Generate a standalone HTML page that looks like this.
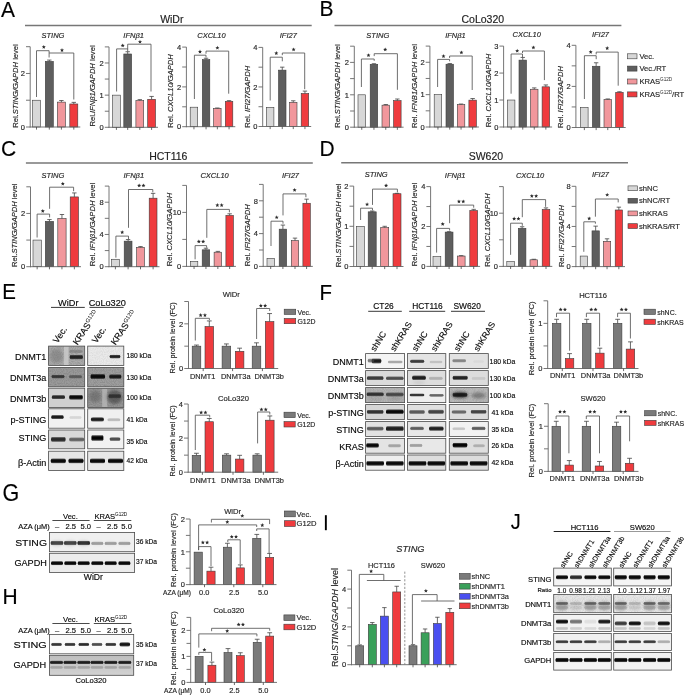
<!DOCTYPE html>
<html><head><meta charset="utf-8"><title>Figure</title>
<style>html,body{margin:0;padding:0;background:#fff;}body{width:685px;height:695px;overflow:hidden;font-family:"Liberation Sans",sans-serif;}svg{display:block;will-change:transform;}text{stroke:#222;stroke-width:0.16px;}</style>
</head><body>
<svg width="685" height="695" viewBox="0 0 685 695" font-family='"Liberation Sans", sans-serif'><defs><linearGradient id="g666" x1="0" y1="0" x2="0" y2="1"><stop offset="0" stop-color="#666" stop-opacity="0"/><stop offset="0.2" stop-color="#666" stop-opacity="0.8"/><stop offset="0.36" stop-color="#666" stop-opacity="1"/><stop offset="0.64" stop-color="#666" stop-opacity="1"/><stop offset="0.8" stop-color="#666" stop-opacity="0.8"/><stop offset="1" stop-color="#666" stop-opacity="0"/></linearGradient><linearGradient id="g151515" x1="0" y1="0" x2="0" y2="1"><stop offset="0" stop-color="#151515" stop-opacity="0"/><stop offset="0.2" stop-color="#151515" stop-opacity="0.8"/><stop offset="0.36" stop-color="#151515" stop-opacity="1"/><stop offset="0.64" stop-color="#151515" stop-opacity="1"/><stop offset="0.8" stop-color="#151515" stop-opacity="0.8"/><stop offset="1" stop-color="#151515" stop-opacity="0"/></linearGradient><linearGradient id="g111" x1="0" y1="0" x2="0" y2="1"><stop offset="0" stop-color="#111" stop-opacity="0"/><stop offset="0.2" stop-color="#111" stop-opacity="0.8"/><stop offset="0.36" stop-color="#111" stop-opacity="1"/><stop offset="0.64" stop-color="#111" stop-opacity="1"/><stop offset="0.8" stop-color="#111" stop-opacity="0.8"/><stop offset="1" stop-color="#111" stop-opacity="0"/></linearGradient><linearGradient id="g2a2a2a" x1="0" y1="0" x2="0" y2="1"><stop offset="0" stop-color="#2a2a2a" stop-opacity="0"/><stop offset="0.2" stop-color="#2a2a2a" stop-opacity="0.8"/><stop offset="0.36" stop-color="#2a2a2a" stop-opacity="1"/><stop offset="0.64" stop-color="#2a2a2a" stop-opacity="1"/><stop offset="0.8" stop-color="#2a2a2a" stop-opacity="0.8"/><stop offset="1" stop-color="#2a2a2a" stop-opacity="0"/></linearGradient><linearGradient id="g4a4a4a" x1="0" y1="0" x2="0" y2="1"><stop offset="0" stop-color="#4a4a4a" stop-opacity="0"/><stop offset="0.2" stop-color="#4a4a4a" stop-opacity="0.8"/><stop offset="0.36" stop-color="#4a4a4a" stop-opacity="1"/><stop offset="0.64" stop-color="#4a4a4a" stop-opacity="1"/><stop offset="0.8" stop-color="#4a4a4a" stop-opacity="0.8"/><stop offset="1" stop-color="#4a4a4a" stop-opacity="0"/></linearGradient><linearGradient id="g0a0a0a" x1="0" y1="0" x2="0" y2="1"><stop offset="0" stop-color="#0a0a0a" stop-opacity="0"/><stop offset="0.2" stop-color="#0a0a0a" stop-opacity="0.8"/><stop offset="0.36" stop-color="#0a0a0a" stop-opacity="1"/><stop offset="0.64" stop-color="#0a0a0a" stop-opacity="1"/><stop offset="0.8" stop-color="#0a0a0a" stop-opacity="0.8"/><stop offset="1" stop-color="#0a0a0a" stop-opacity="0"/></linearGradient><linearGradient id="g1a1a1a" x1="0" y1="0" x2="0" y2="1"><stop offset="0" stop-color="#1a1a1a" stop-opacity="0"/><stop offset="0.2" stop-color="#1a1a1a" stop-opacity="0.8"/><stop offset="0.36" stop-color="#1a1a1a" stop-opacity="1"/><stop offset="0.64" stop-color="#1a1a1a" stop-opacity="1"/><stop offset="0.8" stop-color="#1a1a1a" stop-opacity="0.8"/><stop offset="1" stop-color="#1a1a1a" stop-opacity="0"/></linearGradient><linearGradient id="g222" x1="0" y1="0" x2="0" y2="1"><stop offset="0" stop-color="#222" stop-opacity="0"/><stop offset="0.2" stop-color="#222" stop-opacity="0.8"/><stop offset="0.36" stop-color="#222" stop-opacity="1"/><stop offset="0.64" stop-color="#222" stop-opacity="1"/><stop offset="0.8" stop-color="#222" stop-opacity="0.8"/><stop offset="1" stop-color="#222" stop-opacity="0"/></linearGradient><linearGradient id="gbbb" x1="0" y1="0" x2="0" y2="1"><stop offset="0" stop-color="#bbb" stop-opacity="0"/><stop offset="0.2" stop-color="#bbb" stop-opacity="0.8"/><stop offset="0.36" stop-color="#bbb" stop-opacity="1"/><stop offset="0.64" stop-color="#bbb" stop-opacity="1"/><stop offset="0.8" stop-color="#bbb" stop-opacity="0.8"/><stop offset="1" stop-color="#bbb" stop-opacity="0"/></linearGradient><linearGradient id="g999" x1="0" y1="0" x2="0" y2="1"><stop offset="0" stop-color="#999" stop-opacity="0"/><stop offset="0.2" stop-color="#999" stop-opacity="0.8"/><stop offset="0.36" stop-color="#999" stop-opacity="1"/><stop offset="0.64" stop-color="#999" stop-opacity="1"/><stop offset="0.8" stop-color="#999" stop-opacity="0.8"/><stop offset="1" stop-color="#999" stop-opacity="0"/></linearGradient><linearGradient id="g444" x1="0" y1="0" x2="0" y2="1"><stop offset="0" stop-color="#444" stop-opacity="0"/><stop offset="0.2" stop-color="#444" stop-opacity="0.8"/><stop offset="0.36" stop-color="#444" stop-opacity="1"/><stop offset="0.64" stop-color="#444" stop-opacity="1"/><stop offset="0.8" stop-color="#444" stop-opacity="0.8"/><stop offset="1" stop-color="#444" stop-opacity="0"/></linearGradient><linearGradient id="g050505" x1="0" y1="0" x2="0" y2="1"><stop offset="0" stop-color="#050505" stop-opacity="0"/><stop offset="0.2" stop-color="#050505" stop-opacity="0.8"/><stop offset="0.36" stop-color="#050505" stop-opacity="1"/><stop offset="0.64" stop-color="#050505" stop-opacity="1"/><stop offset="0.8" stop-color="#050505" stop-opacity="0.8"/><stop offset="1" stop-color="#050505" stop-opacity="0"/></linearGradient><linearGradient id="g333" x1="0" y1="0" x2="0" y2="1"><stop offset="0" stop-color="#333" stop-opacity="0"/><stop offset="0.2" stop-color="#333" stop-opacity="0.8"/><stop offset="0.36" stop-color="#333" stop-opacity="1"/><stop offset="0.64" stop-color="#333" stop-opacity="1"/><stop offset="0.8" stop-color="#333" stop-opacity="0.8"/><stop offset="1" stop-color="#333" stop-opacity="0"/></linearGradient><linearGradient id="g888" x1="0" y1="0" x2="0" y2="1"><stop offset="0" stop-color="#888" stop-opacity="0"/><stop offset="0.2" stop-color="#888" stop-opacity="0.8"/><stop offset="0.36" stop-color="#888" stop-opacity="1"/><stop offset="0.64" stop-color="#888" stop-opacity="1"/><stop offset="0.8" stop-color="#888" stop-opacity="0.8"/><stop offset="1" stop-color="#888" stop-opacity="0"/></linearGradient><linearGradient id="gaaa" x1="0" y1="0" x2="0" y2="1"><stop offset="0" stop-color="#aaa" stop-opacity="0"/><stop offset="0.2" stop-color="#aaa" stop-opacity="0.8"/><stop offset="0.36" stop-color="#aaa" stop-opacity="1"/><stop offset="0.64" stop-color="#aaa" stop-opacity="1"/><stop offset="0.8" stop-color="#aaa" stop-opacity="0.8"/><stop offset="1" stop-color="#aaa" stop-opacity="0"/></linearGradient><linearGradient id="gccc" x1="0" y1="0" x2="0" y2="1"><stop offset="0" stop-color="#ccc" stop-opacity="0"/><stop offset="0.2" stop-color="#ccc" stop-opacity="0.8"/><stop offset="0.36" stop-color="#ccc" stop-opacity="1"/><stop offset="0.64" stop-color="#ccc" stop-opacity="1"/><stop offset="0.8" stop-color="#ccc" stop-opacity="0.8"/><stop offset="1" stop-color="#ccc" stop-opacity="0"/></linearGradient><linearGradient id="g080808" x1="0" y1="0" x2="0" y2="1"><stop offset="0" stop-color="#080808" stop-opacity="0"/><stop offset="0.2" stop-color="#080808" stop-opacity="0.8"/><stop offset="0.36" stop-color="#080808" stop-opacity="1"/><stop offset="0.64" stop-color="#080808" stop-opacity="1"/><stop offset="0.8" stop-color="#080808" stop-opacity="0.8"/><stop offset="1" stop-color="#080808" stop-opacity="0"/></linearGradient><linearGradient id="g555" x1="0" y1="0" x2="0" y2="1"><stop offset="0" stop-color="#555" stop-opacity="0"/><stop offset="0.2" stop-color="#555" stop-opacity="0.8"/><stop offset="0.36" stop-color="#555" stop-opacity="1"/><stop offset="0.64" stop-color="#555" stop-opacity="1"/><stop offset="0.8" stop-color="#555" stop-opacity="0.8"/><stop offset="1" stop-color="#555" stop-opacity="0"/></linearGradient><linearGradient id="g8a8a8a" x1="0" y1="0" x2="0" y2="1"><stop offset="0" stop-color="#8a8a8a" stop-opacity="0"/><stop offset="0.2" stop-color="#8a8a8a" stop-opacity="0.8"/><stop offset="0.36" stop-color="#8a8a8a" stop-opacity="1"/><stop offset="0.64" stop-color="#8a8a8a" stop-opacity="1"/><stop offset="0.8" stop-color="#8a8a8a" stop-opacity="0.8"/><stop offset="1" stop-color="#8a8a8a" stop-opacity="0"/></linearGradient><linearGradient id="hgap" x1="0" y1="0" x2="0" y2="1"><stop offset="0" stop-color="#bdbdbd"/><stop offset="1" stop-color="#d2d2d2"/></linearGradient>
<filter id="b1" x="-50%" y="-100%" width="200%" height="300%"><feGaussianBlur stdDeviation="0.55"/></filter>
<filter id="b15" x="-50%" y="-100%" width="200%" height="300%"><feGaussianBlur stdDeviation="0.62"/></filter>
<filter id="b2" x="-50%" y="-100%" width="200%" height="300%"><feGaussianBlur stdDeviation="1.4"/></filter>
<filter id="nz" x="0" y="0" width="100%" height="100%">
<feTurbulence type="fractalNoise" baseFrequency="0.9" numOctaves="2" seed="3" result="t"/>
<feColorMatrix in="t" type="matrix" values="0 0 0 0 0  0 0 0 0 0  0 0 0 0 0  0 0 0 1.6 -0.55"/>
<feComposite in2="SourceGraphic" operator="in"/>
</filter>
</defs><rect width="685" height="695" fill="#fff"/><text transform="translate(1 16.5) scale(1 1.08)" font-size="21" fill="#000" stroke="none">A</text>
<text transform="translate(319.5 16) scale(1 1.08)" font-size="21" fill="#000" stroke="none">B</text>
<text transform="translate(1 155.5) scale(1 1.08)" font-size="21" fill="#000" stroke="none">C</text>
<text transform="translate(319.4 155.5) scale(1 1.08)" font-size="21" fill="#000" stroke="none">D</text>
<text transform="translate(2.2 298.7) scale(1 1.08)" font-size="20.5" fill="#000" stroke="none">E</text>
<text transform="translate(319.5 299.6) scale(1 1.08)" font-size="20.5" fill="#000" stroke="none">F</text>
<text transform="translate(2.4 501) scale(1 1.08)" font-size="21.5" fill="#000" stroke="none">G</text>
<text transform="translate(2.4 603.5) scale(1 1.08)" font-size="21" fill="#000" stroke="none">H</text>
<rect x="324.9" y="515.2" width="1.9" height="15" fill="#000"/>
<text transform="translate(510.8 529.2) scale(1 1.08)" font-size="20" fill="#000" stroke="none">J</text>
<line x1="25" y1="25.6" x2="311.7" y2="25.6" stroke="#777" stroke-width="1.5"/>
<text x="171.8" y="23.4" font-size="10.5" text-anchor="middle" fill="#222">WiDr</text>
<line x1="334.5" y1="25.4" x2="621.4" y2="25.4" stroke="#777" stroke-width="1.5"/>
<text x="482.8" y="22.9" font-size="10.5" text-anchor="middle" fill="#222">CoLo320</text>
<line x1="25.9" y1="163" x2="312.8" y2="163" stroke="#777" stroke-width="1.5"/>
<text x="168.3" y="160.4" font-size="10.5" text-anchor="middle" fill="#222">HCT116</text>
<line x1="341.2" y1="162.7" x2="628" y2="162.7" stroke="#777" stroke-width="1.5"/>
<text x="485.9" y="160" font-size="10.5" text-anchor="middle" fill="#222">SW620</text>
<line x1="30.2" y1="46.7" x2="30.2" y2="127.45" stroke="#666" stroke-width="0.9"/>
<line x1="26" y1="127" x2="30.2" y2="127" stroke="#666" stroke-width="0.9"/>
<text x="24.9" y="129.7" font-size="7.5" text-anchor="end" fill="#2a2a2a">0</text>
<line x1="26" y1="100.23" x2="30.2" y2="100.23" stroke="#666" stroke-width="0.9"/>
<line x1="26" y1="73.47" x2="30.2" y2="73.47" stroke="#666" stroke-width="0.9"/>
<text x="24.9" y="76.17" font-size="7.5" text-anchor="end" fill="#2a2a2a">2</text>
<line x1="26" y1="46.7" x2="30.2" y2="46.7" stroke="#666" stroke-width="0.9"/>
<rect x="32.5" y="100.23" width="8" height="26.77" fill="#d7d7d7" stroke="#3c3c3c" stroke-width="0.6"/>
<rect x="45.3" y="61.42" width="8" height="65.58" fill="#5e5e5e" stroke="#3c3c3c" stroke-width="0.6"/>
<line x1="49.3" y1="61.42" x2="49.3" y2="60.08" stroke="#444" stroke-width="0.8"/>
<line x1="47.1" y1="60.08" x2="51.5" y2="60.08" stroke="#444" stroke-width="0.8"/>
<rect x="57.4" y="102.11" width="8" height="24.89" fill="#f1979c" stroke="#3c3c3c" stroke-width="0.6"/>
<line x1="61.4" y1="102.11" x2="61.4" y2="100.5" stroke="#444" stroke-width="0.8"/>
<line x1="59.2" y1="100.5" x2="63.6" y2="100.5" stroke="#444" stroke-width="0.8"/>
<rect x="69.8" y="103.98" width="8" height="23.02" fill="#ef3b3e" stroke="#3c3c3c" stroke-width="0.6"/>
<line x1="73.8" y1="103.98" x2="73.8" y2="102.37" stroke="#444" stroke-width="0.8"/>
<line x1="71.6" y1="102.37" x2="76" y2="102.37" stroke="#444" stroke-width="0.8"/>
<line x1="29.75" y1="127" x2="80.3" y2="127" stroke="#666" stroke-width="0.9"/>
<line x1="36.5" y1="127" x2="36.5" y2="129.6" stroke="#444" stroke-width="0.8"/>
<line x1="49.3" y1="127" x2="49.3" y2="129.6" stroke="#444" stroke-width="0.8"/>
<line x1="61.4" y1="127" x2="61.4" y2="129.6" stroke="#444" stroke-width="0.8"/>
<line x1="73.8" y1="127" x2="73.8" y2="129.6" stroke="#444" stroke-width="0.8"/>
<path d="M36.5 97V50.7H49.1V53" stroke="#555" stroke-width="0.85" fill="none"/>
<polygon points="43.8,44.9 44.36,46.24 45.8,46.35 44.7,47.29 45.03,48.7 43.8,47.95 42.57,48.7 42.9,47.29 41.8,46.35 43.24,46.24" fill="#2a2a2a"/>
<path d="M49.1 57.5V53H73.8V99.5" stroke="#555" stroke-width="0.85" fill="none"/>
<polygon points="62,48.1 62.56,49.44 64,49.55 62.9,50.49 63.23,51.9 62,51.15 60.77,51.9 61.1,50.49 60,49.55 61.44,49.44" fill="#2a2a2a"/>
<text x="53" y="38" font-size="7.5" text-anchor="middle" font-style="italic" fill="#2a2a2a">STING</text>
<text transform="translate(17.6 86) rotate(-90)" text-anchor="middle" font-size="7.6" fill="#2a2a2a">Rel.<tspan font-style="italic">STING/GAPDH</tspan> level</text>
<line x1="109" y1="46.9" x2="109" y2="127.75" stroke="#666" stroke-width="0.9"/>
<line x1="104.8" y1="127.3" x2="109" y2="127.3" stroke="#666" stroke-width="0.9"/>
<text x="103.7" y="130" font-size="7.5" text-anchor="end" fill="#2a2a2a">0</text>
<line x1="104.8" y1="111.22" x2="109" y2="111.22" stroke="#666" stroke-width="0.9"/>
<line x1="104.8" y1="95.14" x2="109" y2="95.14" stroke="#666" stroke-width="0.9"/>
<text x="103.7" y="97.84" font-size="7.5" text-anchor="end" fill="#2a2a2a">1</text>
<line x1="104.8" y1="79.06" x2="109" y2="79.06" stroke="#666" stroke-width="0.9"/>
<line x1="104.8" y1="62.98" x2="109" y2="62.98" stroke="#666" stroke-width="0.9"/>
<text x="103.7" y="65.68" font-size="7.5" text-anchor="end" fill="#2a2a2a">2</text>
<line x1="104.8" y1="46.9" x2="109" y2="46.9" stroke="#666" stroke-width="0.9"/>
<rect x="112.5" y="95.14" width="7.8" height="32.16" fill="#d7d7d7" stroke="#3c3c3c" stroke-width="0.6"/>
<rect x="123.8" y="53.98" width="7.8" height="73.32" fill="#5e5e5e" stroke="#3c3c3c" stroke-width="0.6"/>
<line x1="127.7" y1="53.98" x2="127.7" y2="51.72" stroke="#444" stroke-width="0.8"/>
<line x1="125.5" y1="51.72" x2="129.9" y2="51.72" stroke="#444" stroke-width="0.8"/>
<rect x="135.9" y="100.61" width="7.8" height="26.69" fill="#f1979c" stroke="#3c3c3c" stroke-width="0.6"/>
<line x1="139.8" y1="100.61" x2="139.8" y2="99.64" stroke="#444" stroke-width="0.8"/>
<line x1="137.6" y1="99.64" x2="142" y2="99.64" stroke="#444" stroke-width="0.8"/>
<rect x="147.7" y="99.32" width="7.8" height="27.98" fill="#ef3b3e" stroke="#3c3c3c" stroke-width="0.6"/>
<line x1="151.6" y1="99.32" x2="151.6" y2="96.43" stroke="#444" stroke-width="0.8"/>
<line x1="149.4" y1="96.43" x2="153.8" y2="96.43" stroke="#444" stroke-width="0.8"/>
<line x1="108.55" y1="127.3" x2="158" y2="127.3" stroke="#666" stroke-width="0.9"/>
<line x1="116.4" y1="127.3" x2="116.4" y2="129.9" stroke="#444" stroke-width="0.8"/>
<line x1="127.7" y1="127.3" x2="127.7" y2="129.9" stroke="#444" stroke-width="0.8"/>
<line x1="139.8" y1="127.3" x2="139.8" y2="129.9" stroke="#444" stroke-width="0.8"/>
<line x1="151.6" y1="127.3" x2="151.6" y2="129.9" stroke="#444" stroke-width="0.8"/>
<path d="M116.6 91.5V48.9H127.7V51.4" stroke="#555" stroke-width="0.85" fill="none"/>
<polygon points="122.7,43.5 123.26,44.84 124.7,44.95 123.6,45.89 123.93,47.3 122.7,46.55 121.47,47.3 121.8,45.89 120.7,44.95 122.14,44.84" fill="#2a2a2a"/>
<path d="M127.7 49.2V44.2H151V91.5" stroke="#555" stroke-width="0.85" fill="none"/>
<polygon points="140,39.8 140.56,41.14 142,41.25 140.9,42.19 141.23,43.6 140,42.84 138.77,43.6 139.1,42.19 138,41.25 139.44,41.14" fill="#2a2a2a"/>
<text x="133.6" y="38.1" font-size="7.5" text-anchor="middle" font-style="italic" fill="#2a2a2a">IFNβ1</text>
<text transform="translate(95.4 86) rotate(-90)" text-anchor="middle" font-size="7.6" fill="#2a2a2a">Rel.<tspan font-style="italic">IFNβ1/GAPDH</tspan> level</text>
<line x1="186.4" y1="47.1" x2="186.4" y2="127.15" stroke="#666" stroke-width="0.9"/>
<line x1="182.2" y1="126.7" x2="186.4" y2="126.7" stroke="#666" stroke-width="0.9"/>
<text x="181.1" y="129.4" font-size="7.5" text-anchor="end" fill="#2a2a2a">0</text>
<line x1="182.2" y1="106.8" x2="186.4" y2="106.8" stroke="#666" stroke-width="0.9"/>
<line x1="182.2" y1="86.9" x2="186.4" y2="86.9" stroke="#666" stroke-width="0.9"/>
<text x="181.1" y="89.6" font-size="7.5" text-anchor="end" fill="#2a2a2a">2</text>
<line x1="182.2" y1="67" x2="186.4" y2="67" stroke="#666" stroke-width="0.9"/>
<line x1="182.2" y1="47.1" x2="186.4" y2="47.1" stroke="#666" stroke-width="0.9"/>
<text x="181.1" y="49.8" font-size="7.5" text-anchor="end" fill="#2a2a2a">4</text>
<rect x="190.2" y="107.2" width="7.5" height="19.5" fill="#d7d7d7" stroke="#3c3c3c" stroke-width="0.6"/>
<rect x="202.3" y="59.64" width="7.5" height="67.06" fill="#5e5e5e" stroke="#3c3c3c" stroke-width="0.6"/>
<line x1="206.05" y1="59.64" x2="206.05" y2="58.24" stroke="#444" stroke-width="0.8"/>
<line x1="203.85" y1="58.24" x2="208.25" y2="58.24" stroke="#444" stroke-width="0.8"/>
<rect x="213.6" y="108.39" width="7.5" height="18.31" fill="#f1979c" stroke="#3c3c3c" stroke-width="0.6"/>
<line x1="217.35" y1="108.39" x2="217.35" y2="107.99" stroke="#444" stroke-width="0.8"/>
<line x1="215.15" y1="107.99" x2="219.55" y2="107.99" stroke="#444" stroke-width="0.8"/>
<rect x="225.3" y="101.43" width="7.5" height="25.27" fill="#ef3b3e" stroke="#3c3c3c" stroke-width="0.6"/>
<line x1="229.05" y1="101.43" x2="229.05" y2="100.63" stroke="#444" stroke-width="0.8"/>
<line x1="226.85" y1="100.63" x2="231.25" y2="100.63" stroke="#444" stroke-width="0.8"/>
<line x1="185.95" y1="126.7" x2="235.3" y2="126.7" stroke="#666" stroke-width="0.9"/>
<line x1="193.95" y1="126.7" x2="193.95" y2="129.3" stroke="#444" stroke-width="0.8"/>
<line x1="206.05" y1="126.7" x2="206.05" y2="129.3" stroke="#444" stroke-width="0.8"/>
<line x1="217.35" y1="126.7" x2="217.35" y2="129.3" stroke="#444" stroke-width="0.8"/>
<line x1="229.05" y1="126.7" x2="229.05" y2="129.3" stroke="#444" stroke-width="0.8"/>
<path d="M194.4 99V55.2H206V57.5" stroke="#555" stroke-width="0.85" fill="none"/>
<polygon points="200,49.6 200.56,50.94 202,51.05 200.9,51.99 201.23,53.4 200,52.65 198.77,53.4 199.1,51.99 198,51.05 199.44,50.94" fill="#2a2a2a"/>
<path d="M206 53.7V51.1H228.7V93.7" stroke="#555" stroke-width="0.85" fill="none"/>
<polygon points="217.4,45.8 217.96,47.14 219.4,47.25 218.3,48.19 218.63,49.6 217.4,48.84 216.17,49.6 216.5,48.19 215.4,47.25 216.84,47.14" fill="#2a2a2a"/>
<text x="211.4" y="37.8" font-size="7.5" text-anchor="middle" font-style="italic" fill="#2a2a2a">CXCL10</text>
<text transform="translate(173.2 91) rotate(-90)" text-anchor="middle" font-size="7.6" fill="#2a2a2a">Rel. <tspan font-style="italic">CXCL10/GAPDH</tspan></text>
<line x1="262.7" y1="47.4" x2="262.7" y2="126.95" stroke="#666" stroke-width="0.9"/>
<line x1="258.5" y1="126.5" x2="262.7" y2="126.5" stroke="#666" stroke-width="0.9"/>
<text x="257.4" y="129.2" font-size="7.5" text-anchor="end" fill="#2a2a2a">0</text>
<line x1="258.5" y1="106.72" x2="262.7" y2="106.72" stroke="#666" stroke-width="0.9"/>
<line x1="258.5" y1="86.95" x2="262.7" y2="86.95" stroke="#666" stroke-width="0.9"/>
<text x="257.4" y="89.65" font-size="7.5" text-anchor="end" fill="#2a2a2a">2</text>
<line x1="258.5" y1="67.18" x2="262.7" y2="67.18" stroke="#666" stroke-width="0.9"/>
<line x1="258.5" y1="47.4" x2="262.7" y2="47.4" stroke="#666" stroke-width="0.9"/>
<text x="257.4" y="50.1" font-size="7.5" text-anchor="end" fill="#2a2a2a">4</text>
<rect x="266.4" y="107.32" width="7.5" height="19.18" fill="#d7d7d7" stroke="#3c3c3c" stroke-width="0.6"/>
<rect x="278.5" y="70.14" width="7.5" height="56.36" fill="#5e5e5e" stroke="#3c3c3c" stroke-width="0.6"/>
<line x1="282.25" y1="70.14" x2="282.25" y2="67.17" stroke="#444" stroke-width="0.8"/>
<line x1="280.05" y1="67.17" x2="284.45" y2="67.17" stroke="#444" stroke-width="0.8"/>
<rect x="289.5" y="102.37" width="7.5" height="24.13" fill="#f1979c" stroke="#3c3c3c" stroke-width="0.6"/>
<line x1="293.25" y1="102.37" x2="293.25" y2="100.79" stroke="#444" stroke-width="0.8"/>
<line x1="291.05" y1="100.79" x2="295.45" y2="100.79" stroke="#444" stroke-width="0.8"/>
<rect x="301.2" y="93.48" width="7.5" height="33.02" fill="#ef3b3e" stroke="#3c3c3c" stroke-width="0.6"/>
<line x1="304.95" y1="93.48" x2="304.95" y2="91.1" stroke="#444" stroke-width="0.8"/>
<line x1="302.75" y1="91.1" x2="307.15" y2="91.1" stroke="#444" stroke-width="0.8"/>
<line x1="262.25" y1="126.5" x2="311.2" y2="126.5" stroke="#666" stroke-width="0.9"/>
<line x1="270.15" y1="126.5" x2="270.15" y2="129.1" stroke="#444" stroke-width="0.8"/>
<line x1="282.25" y1="126.5" x2="282.25" y2="129.1" stroke="#444" stroke-width="0.8"/>
<line x1="293.25" y1="126.5" x2="293.25" y2="129.1" stroke="#444" stroke-width="0.8"/>
<line x1="304.95" y1="126.5" x2="304.95" y2="129.1" stroke="#444" stroke-width="0.8"/>
<path d="M270.2 100.5V57.2H282.3V61.3" stroke="#555" stroke-width="0.85" fill="none"/>
<polygon points="276.3,51.1 276.86,52.44 278.3,52.55 277.2,53.49 277.53,54.9 276.3,54.15 275.07,54.9 275.4,53.49 274.3,52.55 275.74,52.44" fill="#2a2a2a"/>
<path d="M282.3 55.2V53H304.7V89.2" stroke="#555" stroke-width="0.85" fill="none"/>
<polygon points="293.6,47.4 294.16,48.74 295.6,48.85 294.5,49.79 294.83,51.2 293.6,50.45 292.37,51.2 292.7,49.79 291.6,48.85 293.04,48.74" fill="#2a2a2a"/>
<text x="288.3" y="37.8" font-size="7.5" text-anchor="middle" font-style="italic" fill="#2a2a2a">IFI27</text>
<text transform="translate(250.2 96.7) rotate(-90)" text-anchor="middle" font-size="7.6" fill="#2a2a2a">Rel. <tspan font-style="italic">IFI27/GAPDH</tspan></text>
<line x1="354.3" y1="46.2" x2="354.3" y2="127.65" stroke="#666" stroke-width="0.9"/>
<line x1="350.1" y1="127.2" x2="354.3" y2="127.2" stroke="#666" stroke-width="0.9"/>
<text x="349" y="129.9" font-size="7.5" text-anchor="end" fill="#2a2a2a">0</text>
<line x1="350.1" y1="111" x2="354.3" y2="111" stroke="#666" stroke-width="0.9"/>
<line x1="350.1" y1="94.8" x2="354.3" y2="94.8" stroke="#666" stroke-width="0.9"/>
<text x="349" y="97.5" font-size="7.5" text-anchor="end" fill="#2a2a2a">1</text>
<line x1="350.1" y1="78.6" x2="354.3" y2="78.6" stroke="#666" stroke-width="0.9"/>
<line x1="350.1" y1="62.4" x2="354.3" y2="62.4" stroke="#666" stroke-width="0.9"/>
<text x="349" y="65.1" font-size="7.5" text-anchor="end" fill="#2a2a2a">2</text>
<line x1="350.1" y1="46.2" x2="354.3" y2="46.2" stroke="#666" stroke-width="0.9"/>
<rect x="358" y="94.8" width="7.5" height="32.4" fill="#d7d7d7" stroke="#3c3c3c" stroke-width="0.6"/>
<rect x="370.2" y="64.34" width="7.5" height="62.86" fill="#5e5e5e" stroke="#3c3c3c" stroke-width="0.6"/>
<line x1="373.95" y1="64.34" x2="373.95" y2="63.7" stroke="#444" stroke-width="0.8"/>
<line x1="371.75" y1="63.7" x2="376.15" y2="63.7" stroke="#444" stroke-width="0.8"/>
<rect x="382" y="105.17" width="7.5" height="22.03" fill="#f1979c" stroke="#3c3c3c" stroke-width="0.6"/>
<line x1="385.75" y1="105.17" x2="385.75" y2="104.52" stroke="#444" stroke-width="0.8"/>
<line x1="383.55" y1="104.52" x2="387.95" y2="104.52" stroke="#444" stroke-width="0.8"/>
<rect x="393.6" y="100.63" width="7.5" height="26.57" fill="#ef3b3e" stroke="#3c3c3c" stroke-width="0.6"/>
<line x1="397.35" y1="100.63" x2="397.35" y2="99.01" stroke="#444" stroke-width="0.8"/>
<line x1="395.15" y1="99.01" x2="399.55" y2="99.01" stroke="#444" stroke-width="0.8"/>
<line x1="353.85" y1="127.2" x2="403.6" y2="127.2" stroke="#666" stroke-width="0.9"/>
<line x1="361.75" y1="127.2" x2="361.75" y2="129.8" stroke="#444" stroke-width="0.8"/>
<line x1="373.95" y1="127.2" x2="373.95" y2="129.8" stroke="#444" stroke-width="0.8"/>
<line x1="385.75" y1="127.2" x2="385.75" y2="129.8" stroke="#444" stroke-width="0.8"/>
<line x1="397.35" y1="127.2" x2="397.35" y2="129.8" stroke="#444" stroke-width="0.8"/>
<path d="M361.4 87V59H374.2V60.8" stroke="#555" stroke-width="0.85" fill="none"/>
<polygon points="368.5,53.2 369.06,54.54 370.5,54.65 369.4,55.59 369.73,57 368.5,56.24 367.27,57 367.6,55.59 366.5,54.65 367.94,54.54" fill="#2a2a2a"/>
<path d="M374.2 56.1V53.7H397.4V89.8" stroke="#555" stroke-width="0.85" fill="none"/>
<polygon points="385.2,47.5 385.76,48.84 387.2,48.95 386.1,49.89 386.43,51.3 385.2,50.55 383.97,51.3 384.3,49.89 383.2,48.95 384.64,48.84" fill="#2a2a2a"/>
<text x="377.8" y="37.7" font-size="7.5" text-anchor="middle" font-style="italic" fill="#2a2a2a">STING</text>
<text transform="translate(340.1 86) rotate(-90)" text-anchor="middle" font-size="7.6" fill="#2a2a2a">Rel.<tspan font-style="italic">STING/GAPDH</tspan> level</text>
<line x1="429.9" y1="46.1" x2="429.9" y2="127.45" stroke="#666" stroke-width="0.9"/>
<line x1="425.7" y1="127" x2="429.9" y2="127" stroke="#666" stroke-width="0.9"/>
<text x="424.6" y="129.7" font-size="7.5" text-anchor="end" fill="#2a2a2a">0</text>
<line x1="425.7" y1="110.82" x2="429.9" y2="110.82" stroke="#666" stroke-width="0.9"/>
<line x1="425.7" y1="94.64" x2="429.9" y2="94.64" stroke="#666" stroke-width="0.9"/>
<text x="424.6" y="97.34" font-size="7.5" text-anchor="end" fill="#2a2a2a">1</text>
<line x1="425.7" y1="78.46" x2="429.9" y2="78.46" stroke="#666" stroke-width="0.9"/>
<line x1="425.7" y1="62.28" x2="429.9" y2="62.28" stroke="#666" stroke-width="0.9"/>
<text x="424.6" y="64.98" font-size="7.5" text-anchor="end" fill="#2a2a2a">2</text>
<line x1="425.7" y1="46.1" x2="429.9" y2="46.1" stroke="#666" stroke-width="0.9"/>
<rect x="434.2" y="94.64" width="7.5" height="32.36" fill="#d7d7d7" stroke="#3c3c3c" stroke-width="0.6"/>
<rect x="446" y="64.22" width="7.5" height="62.78" fill="#5e5e5e" stroke="#3c3c3c" stroke-width="0.6"/>
<line x1="449.75" y1="64.22" x2="449.75" y2="63.57" stroke="#444" stroke-width="0.8"/>
<line x1="447.55" y1="63.57" x2="451.95" y2="63.57" stroke="#444" stroke-width="0.8"/>
<rect x="457.3" y="104.67" width="7.5" height="22.33" fill="#f1979c" stroke="#3c3c3c" stroke-width="0.6"/>
<line x1="461.05" y1="104.67" x2="461.05" y2="104.02" stroke="#444" stroke-width="0.8"/>
<line x1="458.85" y1="104.02" x2="463.25" y2="104.02" stroke="#444" stroke-width="0.8"/>
<rect x="468.9" y="100.14" width="7.5" height="26.86" fill="#ef3b3e" stroke="#3c3c3c" stroke-width="0.6"/>
<line x1="472.65" y1="100.14" x2="472.65" y2="98.52" stroke="#444" stroke-width="0.8"/>
<line x1="470.45" y1="98.52" x2="474.85" y2="98.52" stroke="#444" stroke-width="0.8"/>
<line x1="429.45" y1="127" x2="478.9" y2="127" stroke="#666" stroke-width="0.9"/>
<line x1="437.95" y1="127" x2="437.95" y2="129.6" stroke="#444" stroke-width="0.8"/>
<line x1="449.75" y1="127" x2="449.75" y2="129.6" stroke="#444" stroke-width="0.8"/>
<line x1="461.05" y1="127" x2="461.05" y2="129.6" stroke="#444" stroke-width="0.8"/>
<line x1="472.65" y1="127" x2="472.65" y2="129.6" stroke="#444" stroke-width="0.8"/>
<path d="M437.6 87V59.4H449.6V61.3" stroke="#555" stroke-width="0.85" fill="none"/>
<polygon points="443.5,54.1 444.06,55.44 445.5,55.55 444.4,56.49 444.73,57.9 443.5,57.15 442.27,57.9 442.6,56.49 441.5,55.55 442.94,55.44" fill="#2a2a2a"/>
<path d="M449.6 58V56H472.2V90" stroke="#555" stroke-width="0.85" fill="none"/>
<polygon points="461.4,50.4 461.96,51.74 463.4,51.85 462.3,52.79 462.63,54.2 461.4,53.45 460.17,54.2 460.5,52.79 459.4,51.85 460.84,51.74" fill="#2a2a2a"/>
<text x="455.4" y="37.8" font-size="7.5" text-anchor="middle" font-style="italic" fill="#2a2a2a">IFNβ1</text>
<text transform="translate(417.1 86) rotate(-90)" text-anchor="middle" font-size="7.6" fill="#2a2a2a">Rel. <tspan font-style="italic">IFNB1/GAPDH</tspan> level</text>
<line x1="503.6" y1="46.1" x2="503.6" y2="127.45" stroke="#666" stroke-width="0.9"/>
<line x1="499.4" y1="127" x2="503.6" y2="127" stroke="#666" stroke-width="0.9"/>
<text x="498.3" y="129.7" font-size="7.5" text-anchor="end" fill="#2a2a2a">0</text>
<line x1="499.4" y1="100.03" x2="503.6" y2="100.03" stroke="#666" stroke-width="0.9"/>
<text x="498.3" y="102.73" font-size="7.5" text-anchor="end" fill="#2a2a2a">1</text>
<line x1="499.4" y1="73.07" x2="503.6" y2="73.07" stroke="#666" stroke-width="0.9"/>
<text x="498.3" y="75.77" font-size="7.5" text-anchor="end" fill="#2a2a2a">2</text>
<line x1="499.4" y1="46.1" x2="503.6" y2="46.1" stroke="#666" stroke-width="0.9"/>
<text x="498.3" y="48.8" font-size="7.5" text-anchor="end" fill="#2a2a2a">3</text>
<rect x="507.4" y="100.03" width="7.5" height="26.97" fill="#d7d7d7" stroke="#3c3c3c" stroke-width="0.6"/>
<rect x="519" y="60.12" width="7.5" height="66.88" fill="#5e5e5e" stroke="#3c3c3c" stroke-width="0.6"/>
<line x1="522.75" y1="60.12" x2="522.75" y2="57.43" stroke="#444" stroke-width="0.8"/>
<line x1="520.55" y1="57.43" x2="524.95" y2="57.43" stroke="#444" stroke-width="0.8"/>
<rect x="530.5" y="89.25" width="7.5" height="37.75" fill="#f1979c" stroke="#3c3c3c" stroke-width="0.6"/>
<line x1="534.25" y1="89.25" x2="534.25" y2="87.9" stroke="#444" stroke-width="0.8"/>
<line x1="532.05" y1="87.9" x2="536.45" y2="87.9" stroke="#444" stroke-width="0.8"/>
<rect x="542.1" y="86.82" width="7.5" height="40.18" fill="#ef3b3e" stroke="#3c3c3c" stroke-width="0.6"/>
<line x1="545.85" y1="86.82" x2="545.85" y2="84.93" stroke="#444" stroke-width="0.8"/>
<line x1="543.65" y1="84.93" x2="548.05" y2="84.93" stroke="#444" stroke-width="0.8"/>
<line x1="503.15" y1="127" x2="552.1" y2="127" stroke="#666" stroke-width="0.9"/>
<line x1="511.15" y1="127" x2="511.15" y2="129.6" stroke="#444" stroke-width="0.8"/>
<line x1="522.75" y1="127" x2="522.75" y2="129.6" stroke="#444" stroke-width="0.8"/>
<line x1="534.25" y1="127" x2="534.25" y2="129.6" stroke="#444" stroke-width="0.8"/>
<line x1="545.85" y1="127" x2="545.85" y2="129.6" stroke="#444" stroke-width="0.8"/>
<path d="M511.1 93.7V54H522.5V57.5" stroke="#555" stroke-width="0.85" fill="none"/>
<polygon points="517.2,48.8 517.76,50.14 519.2,50.25 518.1,51.19 518.43,52.6 517.2,51.84 515.97,52.6 516.3,51.19 515.2,50.25 516.64,50.14" fill="#2a2a2a"/>
<path d="M522.5 53V51H544.4V80.1" stroke="#555" stroke-width="0.85" fill="none"/>
<polygon points="533.4,45.4 533.96,46.74 535.4,46.85 534.3,47.79 534.63,49.2 533.4,48.45 532.17,49.2 532.5,47.79 531.4,46.85 532.84,46.74" fill="#2a2a2a"/>
<text x="526.7" y="37.4" font-size="7.5" text-anchor="middle" font-style="italic" fill="#2a2a2a">CXCL10</text>
<text transform="translate(491.3 90.5) rotate(-90)" text-anchor="middle" font-size="7.6" fill="#2a2a2a">Rel. <tspan font-style="italic">CXCL10/GAPDH</tspan></text>
<line x1="575.9" y1="45.3" x2="575.9" y2="127.95" stroke="#666" stroke-width="0.9"/>
<line x1="571.7" y1="127.5" x2="575.9" y2="127.5" stroke="#666" stroke-width="0.9"/>
<text x="570.6" y="130.2" font-size="7.5" text-anchor="end" fill="#2a2a2a">0</text>
<line x1="571.7" y1="106.95" x2="575.9" y2="106.95" stroke="#666" stroke-width="0.9"/>
<line x1="571.7" y1="86.4" x2="575.9" y2="86.4" stroke="#666" stroke-width="0.9"/>
<text x="570.6" y="89.1" font-size="7.5" text-anchor="end" fill="#2a2a2a">2</text>
<line x1="571.7" y1="65.85" x2="575.9" y2="65.85" stroke="#666" stroke-width="0.9"/>
<line x1="571.7" y1="45.3" x2="575.9" y2="45.3" stroke="#666" stroke-width="0.9"/>
<text x="570.6" y="48" font-size="7.5" text-anchor="end" fill="#2a2a2a">4</text>
<rect x="580.6" y="107.36" width="7.5" height="20.14" fill="#d7d7d7" stroke="#3c3c3c" stroke-width="0.6"/>
<rect x="592.4" y="66.26" width="7.5" height="61.24" fill="#5e5e5e" stroke="#3c3c3c" stroke-width="0.6"/>
<line x1="596.15" y1="66.26" x2="596.15" y2="62.77" stroke="#444" stroke-width="0.8"/>
<line x1="593.95" y1="62.77" x2="598.35" y2="62.77" stroke="#444" stroke-width="0.8"/>
<rect x="604" y="99.55" width="7.5" height="27.95" fill="#f1979c" stroke="#3c3c3c" stroke-width="0.6"/>
<line x1="607.75" y1="99.55" x2="607.75" y2="98.94" stroke="#444" stroke-width="0.8"/>
<line x1="605.55" y1="98.94" x2="609.95" y2="98.94" stroke="#444" stroke-width="0.8"/>
<rect x="615.7" y="92.36" width="7.5" height="35.14" fill="#ef3b3e" stroke="#3c3c3c" stroke-width="0.6"/>
<line x1="619.45" y1="92.36" x2="619.45" y2="91.74" stroke="#444" stroke-width="0.8"/>
<line x1="617.25" y1="91.74" x2="621.65" y2="91.74" stroke="#444" stroke-width="0.8"/>
<line x1="575.45" y1="127.5" x2="625.7" y2="127.5" stroke="#666" stroke-width="0.9"/>
<line x1="584.35" y1="127.5" x2="584.35" y2="130.1" stroke="#444" stroke-width="0.8"/>
<line x1="596.15" y1="127.5" x2="596.15" y2="130.1" stroke="#444" stroke-width="0.8"/>
<line x1="607.75" y1="127.5" x2="607.75" y2="130.1" stroke="#444" stroke-width="0.8"/>
<line x1="619.45" y1="127.5" x2="619.45" y2="130.1" stroke="#444" stroke-width="0.8"/>
<path d="M584.4 99V55.7H596.2V59.2" stroke="#555" stroke-width="0.85" fill="none"/>
<polygon points="590.7,49.9 591.26,51.24 592.7,51.35 591.6,52.29 591.93,53.7 590.7,52.95 589.47,53.7 589.8,52.29 588.7,51.35 590.14,51.24" fill="#2a2a2a"/>
<path d="M596.2 54.4V52.1H618.2V85.7" stroke="#555" stroke-width="0.85" fill="none"/>
<polygon points="607.2,46.1 607.76,47.44 609.2,47.55 608.1,48.49 608.43,49.9 607.2,49.15 605.97,49.9 606.3,48.49 605.2,47.55 606.64,47.44" fill="#2a2a2a"/>
<text x="600.5" y="37.1" font-size="7.5" text-anchor="middle" font-style="italic" fill="#2a2a2a">IFI27</text>
<text transform="translate(563.3 97) rotate(-90)" text-anchor="middle" font-size="7.6" fill="#2a2a2a">Rel. <tspan font-style="italic">IFI27/GAPDH</tspan></text>
<rect x="627.5" y="53.8" width="9.5" height="5" fill="#d7d7d7" stroke="#3c3c3c" stroke-width="0.6"/>
<text x="639.4" y="59" font-size="7.6" fill="#2a2a2a">Vec.</text>
<rect x="627.5" y="66.1" width="9.5" height="5" fill="#5e5e5e" stroke="#3c3c3c" stroke-width="0.6"/>
<text x="639.4" y="71.3" font-size="7.6" fill="#2a2a2a">Vec./RT</text>
<rect x="627.5" y="79" width="9.5" height="5" fill="#f1979c" stroke="#3c3c3c" stroke-width="0.6"/>
<text x="639.4" y="84.2" font-size="7.6" fill="#2a2a2a">KRAS<tspan font-size="4.6" dy="-3" stroke="none">G12D</tspan></text>
<rect x="627.5" y="91.9" width="9.5" height="5" fill="#ef3b3e" stroke="#3c3c3c" stroke-width="0.6"/>
<text x="639.4" y="97.1" font-size="7.6" fill="#2a2a2a">KRAS<tspan font-size="4.6" dy="-3" stroke="none">G12D</tspan><tspan dy="3">/RT</tspan></text>
<line x1="30.5" y1="186.8" x2="30.5" y2="267.15" stroke="#666" stroke-width="0.9"/>
<line x1="26.3" y1="266.7" x2="30.5" y2="266.7" stroke="#666" stroke-width="0.9"/>
<text x="25.2" y="269.4" font-size="7.5" text-anchor="end" fill="#2a2a2a">0</text>
<line x1="26.3" y1="240.07" x2="30.5" y2="240.07" stroke="#666" stroke-width="0.9"/>
<line x1="26.3" y1="213.43" x2="30.5" y2="213.43" stroke="#666" stroke-width="0.9"/>
<text x="25.2" y="216.13" font-size="7.5" text-anchor="end" fill="#2a2a2a">2</text>
<line x1="26.3" y1="186.8" x2="30.5" y2="186.8" stroke="#666" stroke-width="0.9"/>
<rect x="33" y="240.07" width="8.3" height="26.63" fill="#d7d7d7" stroke="#3c3c3c" stroke-width="0.6"/>
<rect x="45.3" y="221.42" width="8.3" height="45.28" fill="#5e5e5e" stroke="#3c3c3c" stroke-width="0.6"/>
<line x1="49.45" y1="221.42" x2="49.45" y2="219.56" stroke="#444" stroke-width="0.8"/>
<line x1="47.25" y1="219.56" x2="51.65" y2="219.56" stroke="#444" stroke-width="0.8"/>
<rect x="57.8" y="218.49" width="8.3" height="48.21" fill="#f1979c" stroke="#3c3c3c" stroke-width="0.6"/>
<line x1="61.95" y1="218.49" x2="61.95" y2="214.5" stroke="#444" stroke-width="0.8"/>
<line x1="59.75" y1="214.5" x2="64.15" y2="214.5" stroke="#444" stroke-width="0.8"/>
<rect x="70.2" y="196.92" width="8.3" height="69.78" fill="#ef3b3e" stroke="#3c3c3c" stroke-width="0.6"/>
<line x1="74.35" y1="196.92" x2="74.35" y2="192.93" stroke="#444" stroke-width="0.8"/>
<line x1="72.15" y1="192.93" x2="76.55" y2="192.93" stroke="#444" stroke-width="0.8"/>
<line x1="30.05" y1="266.7" x2="81" y2="266.7" stroke="#666" stroke-width="0.9"/>
<line x1="37.15" y1="266.7" x2="37.15" y2="269.3" stroke="#444" stroke-width="0.8"/>
<line x1="49.45" y1="266.7" x2="49.45" y2="269.3" stroke="#444" stroke-width="0.8"/>
<line x1="61.95" y1="266.7" x2="61.95" y2="269.3" stroke="#444" stroke-width="0.8"/>
<line x1="74.35" y1="266.7" x2="74.35" y2="269.3" stroke="#444" stroke-width="0.8"/>
<path d="M37.1 237.5V214.1H49.6V217.4" stroke="#555" stroke-width="0.85" fill="none"/>
<polygon points="42.8,209 43.36,210.34 44.8,210.45 43.7,211.39 44.03,212.8 42.8,212.04 41.57,212.8 41.9,211.39 40.8,210.45 42.24,210.34" fill="#2a2a2a"/>
<path d="M49.6 208.8V187.2H73.6V191.2" stroke="#555" stroke-width="0.85" fill="none"/>
<polygon points="62.8,181.7 63.36,183.04 64.8,183.15 63.7,184.09 64.03,185.5 62.8,184.75 61.57,185.5 61.9,184.09 60.8,183.15 62.24,183.04" fill="#2a2a2a"/>
<text x="52.9" y="178.1" font-size="7.5" text-anchor="middle" font-style="italic" fill="#2a2a2a">STING</text>
<text transform="translate(17 225.3) rotate(-90)" text-anchor="middle" font-size="7.6" fill="#2a2a2a">Rel.<tspan font-style="italic">STING/GAPDH</tspan> level</text>
<line x1="109" y1="186.1" x2="109" y2="267.15" stroke="#666" stroke-width="0.9"/>
<line x1="104.8" y1="266.7" x2="109" y2="266.7" stroke="#666" stroke-width="0.9"/>
<text x="103.7" y="269.4" font-size="7.5" text-anchor="end" fill="#2a2a2a">0</text>
<line x1="104.8" y1="250.58" x2="109" y2="250.58" stroke="#666" stroke-width="0.9"/>
<line x1="104.8" y1="234.46" x2="109" y2="234.46" stroke="#666" stroke-width="0.9"/>
<text x="103.7" y="237.16" font-size="7.5" text-anchor="end" fill="#2a2a2a">4</text>
<line x1="104.8" y1="218.34" x2="109" y2="218.34" stroke="#666" stroke-width="0.9"/>
<line x1="104.8" y1="202.22" x2="109" y2="202.22" stroke="#666" stroke-width="0.9"/>
<text x="103.7" y="204.92" font-size="7.5" text-anchor="end" fill="#2a2a2a">8</text>
<line x1="104.8" y1="186.1" x2="109" y2="186.1" stroke="#666" stroke-width="0.9"/>
<rect x="111.5" y="259.28" width="7.8" height="7.42" fill="#d7d7d7" stroke="#3c3c3c" stroke-width="0.6"/>
<rect x="124.2" y="241.15" width="7.8" height="25.55" fill="#5e5e5e" stroke="#3c3c3c" stroke-width="0.6"/>
<line x1="128.1" y1="241.15" x2="128.1" y2="239.54" stroke="#444" stroke-width="0.8"/>
<line x1="125.9" y1="239.54" x2="130.3" y2="239.54" stroke="#444" stroke-width="0.8"/>
<rect x="136.6" y="247.36" width="7.8" height="19.34" fill="#f1979c" stroke="#3c3c3c" stroke-width="0.6"/>
<line x1="140.5" y1="247.36" x2="140.5" y2="246.55" stroke="#444" stroke-width="0.8"/>
<line x1="138.3" y1="246.55" x2="142.7" y2="246.55" stroke="#444" stroke-width="0.8"/>
<rect x="149.2" y="198.19" width="7.8" height="68.51" fill="#ef3b3e" stroke="#3c3c3c" stroke-width="0.6"/>
<line x1="153.1" y1="198.19" x2="153.1" y2="193.35" stroke="#444" stroke-width="0.8"/>
<line x1="150.9" y1="193.35" x2="155.3" y2="193.35" stroke="#444" stroke-width="0.8"/>
<line x1="108.55" y1="266.7" x2="159.5" y2="266.7" stroke="#666" stroke-width="0.9"/>
<line x1="115.4" y1="266.7" x2="115.4" y2="269.3" stroke="#444" stroke-width="0.8"/>
<line x1="128.1" y1="266.7" x2="128.1" y2="269.3" stroke="#444" stroke-width="0.8"/>
<line x1="140.5" y1="266.7" x2="140.5" y2="269.3" stroke="#444" stroke-width="0.8"/>
<line x1="153.1" y1="266.7" x2="153.1" y2="269.3" stroke="#444" stroke-width="0.8"/>
<path d="M115.9 257.6V236.1H128.5V239" stroke="#555" stroke-width="0.85" fill="none"/>
<polygon points="122.2,230.2 122.76,231.54 124.2,231.65 123.1,232.59 123.43,234 122.2,233.25 120.97,234 121.3,232.59 120.2,231.65 121.64,231.54" fill="#2a2a2a"/>
<path d="M128.5 227.8V189.5H152.8V192.3" stroke="#555" stroke-width="0.85" fill="none"/>
<polygon points="139.15,183.5 139.71,184.84 141.15,184.95 140.05,185.89 140.38,187.3 139.15,186.54 137.92,187.3 138.25,185.89 137.15,184.95 138.59,184.84" fill="#2a2a2a"/>
<polygon points="143.45,183.5 144.01,184.84 145.45,184.95 144.35,185.89 144.68,187.3 143.45,186.54 142.22,187.3 142.55,185.89 141.45,184.95 142.89,184.84" fill="#2a2a2a"/>
<text x="133.8" y="177.6" font-size="7.5" text-anchor="middle" font-style="italic" fill="#2a2a2a">IFNβ1</text>
<text transform="translate(95 224.5) rotate(-90)" text-anchor="middle" font-size="7.6" fill="#2a2a2a">Rel. <tspan font-style="italic">IFNβ1/GAPDH</tspan> level</text>
<line x1="186.5" y1="185.4" x2="186.5" y2="266.85" stroke="#666" stroke-width="0.9"/>
<line x1="182.3" y1="266.4" x2="186.5" y2="266.4" stroke="#666" stroke-width="0.9"/>
<text x="181.2" y="269.1" font-size="7.5" text-anchor="end" fill="#2a2a2a">0</text>
<line x1="182.3" y1="239.4" x2="186.5" y2="239.4" stroke="#666" stroke-width="0.9"/>
<line x1="182.3" y1="212.4" x2="186.5" y2="212.4" stroke="#666" stroke-width="0.9"/>
<text x="181.2" y="215.1" font-size="7.5" text-anchor="end" fill="#2a2a2a">10</text>
<line x1="182.3" y1="185.4" x2="186.5" y2="185.4" stroke="#666" stroke-width="0.9"/>
<rect x="190.3" y="261.32" width="7.5" height="5.08" fill="#d7d7d7" stroke="#3c3c3c" stroke-width="0.6"/>
<rect x="202.2" y="249.82" width="7.5" height="16.58" fill="#5e5e5e" stroke="#3c3c3c" stroke-width="0.6"/>
<line x1="205.95" y1="249.82" x2="205.95" y2="248.2" stroke="#444" stroke-width="0.8"/>
<line x1="203.75" y1="248.2" x2="208.15" y2="248.2" stroke="#444" stroke-width="0.8"/>
<rect x="214.1" y="252.2" width="7.5" height="14.2" fill="#f1979c" stroke="#3c3c3c" stroke-width="0.6"/>
<line x1="217.85" y1="252.2" x2="217.85" y2="251.39" stroke="#444" stroke-width="0.8"/>
<line x1="215.65" y1="251.39" x2="220.05" y2="251.39" stroke="#444" stroke-width="0.8"/>
<rect x="225.9" y="215.42" width="7.5" height="50.98" fill="#ef3b3e" stroke="#3c3c3c" stroke-width="0.6"/>
<line x1="229.65" y1="215.42" x2="229.65" y2="213.8" stroke="#444" stroke-width="0.8"/>
<line x1="227.45" y1="213.8" x2="231.85" y2="213.8" stroke="#444" stroke-width="0.8"/>
<line x1="186.05" y1="266.4" x2="235.9" y2="266.4" stroke="#666" stroke-width="0.9"/>
<line x1="194.05" y1="266.4" x2="194.05" y2="269" stroke="#444" stroke-width="0.8"/>
<line x1="205.95" y1="266.4" x2="205.95" y2="269" stroke="#444" stroke-width="0.8"/>
<line x1="217.85" y1="266.4" x2="217.85" y2="269" stroke="#444" stroke-width="0.8"/>
<line x1="229.65" y1="266.4" x2="229.65" y2="269" stroke="#444" stroke-width="0.8"/>
<path d="M195.1 259.3V245.6H206.6V247.7" stroke="#555" stroke-width="0.85" fill="none"/>
<polygon points="198.85,239.5 199.41,240.84 200.85,240.95 199.75,241.89 200.08,243.3 198.85,242.54 197.62,243.3 197.95,241.89 196.85,240.95 198.29,240.84" fill="#2a2a2a"/>
<polygon points="203.15,239.5 203.71,240.84 205.15,240.95 204.05,241.89 204.38,243.3 203.15,242.54 201.92,243.3 202.25,241.89 201.15,240.95 202.59,240.84" fill="#2a2a2a"/>
<path d="M206.8 237.8V209.4H229.4V212.3" stroke="#555" stroke-width="0.85" fill="none"/>
<polygon points="217.35,203.1 217.91,204.44 219.35,204.55 218.25,205.49 218.58,206.9 217.35,206.14 216.12,206.9 216.45,205.49 215.35,204.55 216.79,204.44" fill="#2a2a2a"/>
<polygon points="221.65,203.1 222.21,204.44 223.65,204.55 222.55,205.49 222.88,206.9 221.65,206.14 220.42,206.9 220.75,205.49 219.65,204.55 221.09,204.44" fill="#2a2a2a"/>
<text x="214.6" y="177.6" font-size="7.5" text-anchor="middle" font-style="italic" fill="#2a2a2a">CXCL10</text>
<text transform="translate(171.9 229.5) rotate(-90)" text-anchor="middle" font-size="7.6" fill="#2a2a2a">Rel. <tspan font-style="italic">CXCL10/GAPDH</tspan></text>
<line x1="263.2" y1="184.4" x2="263.2" y2="266.85" stroke="#666" stroke-width="0.9"/>
<line x1="259" y1="266.4" x2="263.2" y2="266.4" stroke="#666" stroke-width="0.9"/>
<text x="257.9" y="269.1" font-size="7.5" text-anchor="end" fill="#2a2a2a">0</text>
<line x1="259" y1="250" x2="263.2" y2="250" stroke="#666" stroke-width="0.9"/>
<line x1="259" y1="233.6" x2="263.2" y2="233.6" stroke="#666" stroke-width="0.9"/>
<text x="257.9" y="236.3" font-size="7.5" text-anchor="end" fill="#2a2a2a">4</text>
<line x1="259" y1="217.2" x2="263.2" y2="217.2" stroke="#666" stroke-width="0.9"/>
<line x1="259" y1="200.8" x2="263.2" y2="200.8" stroke="#666" stroke-width="0.9"/>
<text x="257.9" y="203.5" font-size="7.5" text-anchor="end" fill="#2a2a2a">8</text>
<line x1="259" y1="184.4" x2="263.2" y2="184.4" stroke="#666" stroke-width="0.9"/>
<rect x="267" y="258.36" width="7.4" height="8.04" fill="#d7d7d7" stroke="#3c3c3c" stroke-width="0.6"/>
<rect x="279.2" y="229.17" width="7.4" height="37.23" fill="#5e5e5e" stroke="#3c3c3c" stroke-width="0.6"/>
<line x1="282.9" y1="229.17" x2="282.9" y2="225.07" stroke="#444" stroke-width="0.8"/>
<line x1="280.7" y1="225.07" x2="285.1" y2="225.07" stroke="#444" stroke-width="0.8"/>
<rect x="291.3" y="240.57" width="7.4" height="25.83" fill="#f1979c" stroke="#3c3c3c" stroke-width="0.6"/>
<line x1="295" y1="240.57" x2="295" y2="238.11" stroke="#444" stroke-width="0.8"/>
<line x1="292.8" y1="238.11" x2="297.2" y2="238.11" stroke="#444" stroke-width="0.8"/>
<rect x="302.9" y="203.26" width="7.4" height="63.14" fill="#ef3b3e" stroke="#3c3c3c" stroke-width="0.6"/>
<line x1="306.6" y1="203.26" x2="306.6" y2="199.16" stroke="#444" stroke-width="0.8"/>
<line x1="304.4" y1="199.16" x2="308.8" y2="199.16" stroke="#444" stroke-width="0.8"/>
<line x1="262.75" y1="266.4" x2="312.8" y2="266.4" stroke="#666" stroke-width="0.9"/>
<line x1="270.7" y1="266.4" x2="270.7" y2="269" stroke="#444" stroke-width="0.8"/>
<line x1="282.9" y1="266.4" x2="282.9" y2="269" stroke="#444" stroke-width="0.8"/>
<line x1="295" y1="266.4" x2="295" y2="269" stroke="#444" stroke-width="0.8"/>
<line x1="306.6" y1="266.4" x2="306.6" y2="269" stroke="#444" stroke-width="0.8"/>
<path d="M271 246V221.2H283V223.7" stroke="#555" stroke-width="0.85" fill="none"/>
<polygon points="276.7,215.3 277.26,216.64 278.7,216.75 277.6,217.69 277.93,219.1 276.7,218.34 275.47,219.1 275.8,217.69 274.7,216.75 276.14,216.64" fill="#2a2a2a"/>
<path d="M283 215.4V193.9H305.9V197.2" stroke="#555" stroke-width="0.85" fill="none"/>
<polygon points="294.6,188 295.16,189.34 296.6,189.45 295.5,190.39 295.83,191.8 294.6,191.04 293.37,191.8 293.7,190.39 292.6,189.45 294.04,189.34" fill="#2a2a2a"/>
<text x="290.5" y="177.6" font-size="7.5" text-anchor="middle" font-style="italic" fill="#2a2a2a">IFI27</text>
<text transform="translate(250 235.3) rotate(-90)" text-anchor="middle" font-size="7.6" fill="#2a2a2a">Rel. <tspan font-style="italic">IFI27/GAPDH</tspan></text>
<line x1="353.7" y1="186.1" x2="353.7" y2="266.95" stroke="#666" stroke-width="0.9"/>
<line x1="349.5" y1="266.5" x2="353.7" y2="266.5" stroke="#666" stroke-width="0.9"/>
<text x="348.4" y="269.2" font-size="7.5" text-anchor="end" fill="#2a2a2a">0</text>
<line x1="349.5" y1="246.4" x2="353.7" y2="246.4" stroke="#666" stroke-width="0.9"/>
<line x1="349.5" y1="226.3" x2="353.7" y2="226.3" stroke="#666" stroke-width="0.9"/>
<text x="348.4" y="229" font-size="7.5" text-anchor="end" fill="#2a2a2a">1</text>
<line x1="349.5" y1="206.2" x2="353.7" y2="206.2" stroke="#666" stroke-width="0.9"/>
<line x1="349.5" y1="186.1" x2="353.7" y2="186.1" stroke="#666" stroke-width="0.9"/>
<text x="348.4" y="188.8" font-size="7.5" text-anchor="end" fill="#2a2a2a">2</text>
<rect x="356.3" y="226.3" width="8" height="40.2" fill="#d7d7d7" stroke="#3c3c3c" stroke-width="0.6"/>
<rect x="368.2" y="211.83" width="8" height="54.67" fill="#5e5e5e" stroke="#3c3c3c" stroke-width="0.6"/>
<line x1="372.2" y1="211.83" x2="372.2" y2="211.02" stroke="#444" stroke-width="0.8"/>
<line x1="370" y1="211.02" x2="374.4" y2="211.02" stroke="#444" stroke-width="0.8"/>
<rect x="380.7" y="227.51" width="8" height="38.99" fill="#f1979c" stroke="#3c3c3c" stroke-width="0.6"/>
<line x1="384.7" y1="227.51" x2="384.7" y2="226.3" stroke="#444" stroke-width="0.8"/>
<line x1="382.5" y1="226.3" x2="386.9" y2="226.3" stroke="#444" stroke-width="0.8"/>
<rect x="393" y="193.74" width="8" height="72.76" fill="#ef3b3e" stroke="#3c3c3c" stroke-width="0.6"/>
<line x1="397" y1="193.74" x2="397" y2="193.34" stroke="#444" stroke-width="0.8"/>
<line x1="394.8" y1="193.34" x2="399.2" y2="193.34" stroke="#444" stroke-width="0.8"/>
<line x1="353.25" y1="266.5" x2="403.5" y2="266.5" stroke="#666" stroke-width="0.9"/>
<line x1="360.3" y1="266.5" x2="360.3" y2="269.1" stroke="#444" stroke-width="0.8"/>
<line x1="372.2" y1="266.5" x2="372.2" y2="269.1" stroke="#444" stroke-width="0.8"/>
<line x1="384.7" y1="266.5" x2="384.7" y2="269.1" stroke="#444" stroke-width="0.8"/>
<line x1="397" y1="266.5" x2="397" y2="269.1" stroke="#444" stroke-width="0.8"/>
<path d="M360.6 220V208.2H372.5V210.3" stroke="#555" stroke-width="0.85" fill="none"/>
<polygon points="367.1,202.3 367.66,203.64 369.1,203.75 368,204.69 368.33,206.1 367.1,205.34 365.87,206.1 366.2,204.69 365.1,203.75 366.54,203.64" fill="#2a2a2a"/>
<path d="M372.5 204.9V189.1H397.4V192.4" stroke="#555" stroke-width="0.85" fill="none"/>
<polygon points="386.1,183.5 386.66,184.84 388.1,184.95 387,185.89 387.33,187.3 386.1,186.54 384.87,187.3 385.2,185.89 384.1,184.95 385.54,184.84" fill="#2a2a2a"/>
<text x="376.2" y="177.4" font-size="7.5" text-anchor="middle" font-style="italic" fill="#2a2a2a">STING</text>
<text transform="translate(341 225.4) rotate(-90)" text-anchor="middle" font-size="7.6" fill="#2a2a2a">Rel.<tspan font-style="italic">STING/GAPDH</tspan> level</text>
<line x1="430.6" y1="186.6" x2="430.6" y2="266.85" stroke="#666" stroke-width="0.9"/>
<line x1="426.4" y1="266.4" x2="430.6" y2="266.4" stroke="#666" stroke-width="0.9"/>
<text x="425.3" y="269.1" font-size="7.5" text-anchor="end" fill="#2a2a2a">0</text>
<line x1="426.4" y1="246.45" x2="430.6" y2="246.45" stroke="#666" stroke-width="0.9"/>
<line x1="426.4" y1="226.5" x2="430.6" y2="226.5" stroke="#666" stroke-width="0.9"/>
<text x="425.3" y="229.2" font-size="7.5" text-anchor="end" fill="#2a2a2a">2</text>
<line x1="426.4" y1="206.55" x2="430.6" y2="206.55" stroke="#666" stroke-width="0.9"/>
<line x1="426.4" y1="186.6" x2="430.6" y2="186.6" stroke="#666" stroke-width="0.9"/>
<text x="425.3" y="189.3" font-size="7.5" text-anchor="end" fill="#2a2a2a">4</text>
<rect x="433" y="256.62" width="7.8" height="9.78" fill="#d7d7d7" stroke="#3c3c3c" stroke-width="0.6"/>
<rect x="445.2" y="232.09" width="7.8" height="34.31" fill="#5e5e5e" stroke="#3c3c3c" stroke-width="0.6"/>
<line x1="449.1" y1="232.09" x2="449.1" y2="231.69" stroke="#444" stroke-width="0.8"/>
<line x1="446.9" y1="231.69" x2="451.3" y2="231.69" stroke="#444" stroke-width="0.8"/>
<rect x="457.3" y="256.03" width="7.8" height="10.37" fill="#f1979c" stroke="#3c3c3c" stroke-width="0.6"/>
<line x1="461.2" y1="256.03" x2="461.2" y2="255.63" stroke="#444" stroke-width="0.8"/>
<line x1="459" y1="255.63" x2="463.4" y2="255.63" stroke="#444" stroke-width="0.8"/>
<rect x="469.8" y="210.54" width="7.8" height="55.86" fill="#ef3b3e" stroke="#3c3c3c" stroke-width="0.6"/>
<line x1="473.7" y1="210.54" x2="473.7" y2="209.34" stroke="#444" stroke-width="0.8"/>
<line x1="471.5" y1="209.34" x2="475.9" y2="209.34" stroke="#444" stroke-width="0.8"/>
<line x1="430.15" y1="266.4" x2="480.1" y2="266.4" stroke="#666" stroke-width="0.9"/>
<line x1="436.9" y1="266.4" x2="436.9" y2="269" stroke="#444" stroke-width="0.8"/>
<line x1="449.1" y1="266.4" x2="449.1" y2="269" stroke="#444" stroke-width="0.8"/>
<line x1="461.2" y1="266.4" x2="461.2" y2="269" stroke="#444" stroke-width="0.8"/>
<line x1="473.7" y1="266.4" x2="473.7" y2="269" stroke="#444" stroke-width="0.8"/>
<path d="M436.6 252.6V228.4H449.6V230.5" stroke="#555" stroke-width="0.85" fill="none"/>
<polygon points="442.7,222 443.26,223.34 444.7,223.45 443.6,224.39 443.93,225.8 442.7,225.04 441.47,225.8 441.8,224.39 440.7,223.45 442.14,223.34" fill="#2a2a2a"/>
<path d="M449.6 223.2V205.1H473.7V207.7" stroke="#555" stroke-width="0.85" fill="none"/>
<polygon points="458.95,199.4 459.51,200.74 460.95,200.85 459.85,201.79 460.18,203.2 458.95,202.44 457.72,203.2 458.05,201.79 456.95,200.85 458.39,200.74" fill="#2a2a2a"/>
<polygon points="463.25,199.4 463.81,200.74 465.25,200.85 464.15,201.79 464.48,203.2 463.25,202.44 462.02,203.2 462.35,201.79 461.25,200.85 462.69,200.74" fill="#2a2a2a"/>
<text x="455.1" y="177.6" font-size="7.5" text-anchor="middle" font-style="italic" fill="#2a2a2a">IFNβ1</text>
<text transform="translate(417.1 224.5) rotate(-90)" text-anchor="middle" font-size="7.6" fill="#2a2a2a">Rel. <tspan font-style="italic">IFNβ1/GAPDH</tspan> level</text>
<line x1="503.3" y1="186.6" x2="503.3" y2="266.85" stroke="#666" stroke-width="0.9"/>
<line x1="499.1" y1="266.4" x2="503.3" y2="266.4" stroke="#666" stroke-width="0.9"/>
<text x="498" y="269.1" font-size="7.5" text-anchor="end" fill="#2a2a2a">0</text>
<line x1="499.1" y1="239.8" x2="503.3" y2="239.8" stroke="#666" stroke-width="0.9"/>
<line x1="499.1" y1="213.2" x2="503.3" y2="213.2" stroke="#666" stroke-width="0.9"/>
<text x="498" y="215.9" font-size="7.5" text-anchor="end" fill="#2a2a2a">10</text>
<line x1="499.1" y1="186.6" x2="503.3" y2="186.6" stroke="#666" stroke-width="0.9"/>
<rect x="506.8" y="261.61" width="7.6" height="4.79" fill="#d7d7d7" stroke="#3c3c3c" stroke-width="0.6"/>
<rect x="518.3" y="228.36" width="7.6" height="38.04" fill="#5e5e5e" stroke="#3c3c3c" stroke-width="0.6"/>
<line x1="522.1" y1="228.36" x2="522.1" y2="226.77" stroke="#444" stroke-width="0.8"/>
<line x1="519.9" y1="226.77" x2="524.3" y2="226.77" stroke="#444" stroke-width="0.8"/>
<rect x="530" y="259.8" width="7.6" height="6.6" fill="#f1979c" stroke="#3c3c3c" stroke-width="0.6"/>
<line x1="533.8" y1="259.8" x2="533.8" y2="259.27" stroke="#444" stroke-width="0.8"/>
<line x1="531.6" y1="259.27" x2="536" y2="259.27" stroke="#444" stroke-width="0.8"/>
<rect x="542.2" y="209.48" width="7.6" height="56.92" fill="#ef3b3e" stroke="#3c3c3c" stroke-width="0.6"/>
<line x1="546" y1="209.48" x2="546" y2="207.88" stroke="#444" stroke-width="0.8"/>
<line x1="543.8" y1="207.88" x2="548.2" y2="207.88" stroke="#444" stroke-width="0.8"/>
<line x1="502.85" y1="266.4" x2="552.3" y2="266.4" stroke="#666" stroke-width="0.9"/>
<line x1="510.6" y1="266.4" x2="510.6" y2="269" stroke="#444" stroke-width="0.8"/>
<line x1="522.1" y1="266.4" x2="522.1" y2="269" stroke="#444" stroke-width="0.8"/>
<line x1="533.8" y1="266.4" x2="533.8" y2="269" stroke="#444" stroke-width="0.8"/>
<line x1="546" y1="266.4" x2="546" y2="269" stroke="#444" stroke-width="0.8"/>
<path d="M510.6 254.8V223.2H522.3V225.8" stroke="#555" stroke-width="0.85" fill="none"/>
<polygon points="514.15,216.6 514.71,217.94 516.15,218.05 515.05,218.99 515.38,220.4 514.15,219.64 512.92,220.4 513.25,218.99 512.15,218.05 513.59,217.94" fill="#2a2a2a"/>
<polygon points="518.45,216.6 519.01,217.94 520.45,218.05 519.35,218.99 519.68,220.4 518.45,219.64 517.22,220.4 517.55,218.99 516.45,218.05 517.89,217.94" fill="#2a2a2a"/>
<path d="M522.3 217.2V199.6H545.6V206.8" stroke="#555" stroke-width="0.85" fill="none"/>
<polygon points="531.85,193.9 532.41,195.24 533.85,195.35 532.75,196.29 533.08,197.7 531.85,196.94 530.62,197.7 530.95,196.29 529.85,195.35 531.29,195.24" fill="#2a2a2a"/>
<polygon points="536.15,193.9 536.71,195.24 538.15,195.35 537.05,196.29 537.38,197.7 536.15,196.94 534.92,197.7 535.25,196.29 534.15,195.35 535.59,195.24" fill="#2a2a2a"/>
<text x="530.1" y="177.6" font-size="7.5" text-anchor="middle" font-style="italic" fill="#2a2a2a">CXCL10</text>
<text transform="translate(490.4 230.1) rotate(-90)" text-anchor="middle" font-size="7.6" fill="#2a2a2a">Rel. <tspan font-style="italic">CXCL10/GAPDH</tspan></text>
<line x1="575.9" y1="186.3" x2="575.9" y2="267.05" stroke="#666" stroke-width="0.9"/>
<line x1="571.7" y1="266.6" x2="575.9" y2="266.6" stroke="#666" stroke-width="0.9"/>
<text x="570.6" y="269.3" font-size="7.5" text-anchor="end" fill="#2a2a2a">0</text>
<line x1="571.7" y1="246.53" x2="575.9" y2="246.53" stroke="#666" stroke-width="0.9"/>
<line x1="571.7" y1="226.45" x2="575.9" y2="226.45" stroke="#666" stroke-width="0.9"/>
<text x="570.6" y="229.15" font-size="7.5" text-anchor="end" fill="#2a2a2a">4</text>
<line x1="571.7" y1="206.38" x2="575.9" y2="206.38" stroke="#666" stroke-width="0.9"/>
<line x1="571.7" y1="186.3" x2="575.9" y2="186.3" stroke="#666" stroke-width="0.9"/>
<text x="570.6" y="189" font-size="7.5" text-anchor="end" fill="#2a2a2a">8</text>
<rect x="580.2" y="256.06" width="7.3" height="10.54" fill="#d7d7d7" stroke="#3c3c3c" stroke-width="0.6"/>
<rect x="592" y="230.87" width="7.3" height="35.73" fill="#5e5e5e" stroke="#3c3c3c" stroke-width="0.6"/>
<line x1="595.65" y1="230.87" x2="595.65" y2="226.15" stroke="#444" stroke-width="0.8"/>
<line x1="593.45" y1="226.15" x2="597.85" y2="226.15" stroke="#444" stroke-width="0.8"/>
<rect x="603.4" y="241.31" width="7.3" height="25.29" fill="#f1979c" stroke="#3c3c3c" stroke-width="0.6"/>
<line x1="607.05" y1="241.31" x2="607.05" y2="238.8" stroke="#444" stroke-width="0.8"/>
<line x1="604.85" y1="238.8" x2="609.25" y2="238.8" stroke="#444" stroke-width="0.8"/>
<rect x="615.2" y="209.99" width="7.3" height="56.61" fill="#ef3b3e" stroke="#3c3c3c" stroke-width="0.6"/>
<line x1="618.85" y1="209.99" x2="618.85" y2="207.18" stroke="#444" stroke-width="0.8"/>
<line x1="616.65" y1="207.18" x2="621.05" y2="207.18" stroke="#444" stroke-width="0.8"/>
<line x1="575.45" y1="266.6" x2="625" y2="266.6" stroke="#666" stroke-width="0.9"/>
<line x1="583.85" y1="266.6" x2="583.85" y2="269.2" stroke="#444" stroke-width="0.8"/>
<line x1="595.65" y1="266.6" x2="595.65" y2="269.2" stroke="#444" stroke-width="0.8"/>
<line x1="607.05" y1="266.6" x2="607.05" y2="269.2" stroke="#444" stroke-width="0.8"/>
<line x1="618.85" y1="266.6" x2="618.85" y2="269.2" stroke="#444" stroke-width="0.8"/>
<path d="M583.8 251.8V221.8H595.4V223.7" stroke="#555" stroke-width="0.85" fill="none"/>
<polygon points="589.2,216.4 589.76,217.74 591.2,217.85 590.1,218.79 590.43,220.2 589.2,219.44 587.97,220.2 588.3,218.79 587.2,217.85 588.64,217.74" fill="#2a2a2a"/>
<path d="M595.4 216.7V199H618.2V202.4" stroke="#555" stroke-width="0.85" fill="none"/>
<polygon points="607.2,192.8 607.76,194.14 609.2,194.25 608.1,195.19 608.43,196.6 607.2,195.84 605.97,196.6 606.3,195.19 605.2,194.25 606.64,194.14" fill="#2a2a2a"/>
<text x="600.5" y="177.2" font-size="7.5" text-anchor="middle" font-style="italic" fill="#2a2a2a">IFI27</text>
<text transform="translate(564.2 236.1) rotate(-90)" text-anchor="middle" font-size="7.6" fill="#2a2a2a">Rel. <tspan font-style="italic">IFI27/GAPDH</tspan></text>
<rect x="628" y="185.9" width="9.5" height="4.8" fill="#d7d7d7" stroke="#3c3c3c" stroke-width="0.6"/>
<text x="639" y="191" font-size="7.6" fill="#2a2a2a">shNC</text>
<rect x="628" y="198.3" width="9.5" height="4.8" fill="#5e5e5e" stroke="#3c3c3c" stroke-width="0.6"/>
<text x="639" y="203.4" font-size="7.6" fill="#2a2a2a">shNC/RT</text>
<rect x="628" y="211" width="9.5" height="4.8" fill="#f1979c" stroke="#3c3c3c" stroke-width="0.6"/>
<text x="639" y="216.1" font-size="7.6" fill="#2a2a2a">shKRAS</text>
<rect x="628" y="223.7" width="9.5" height="4.8" fill="#ef3b3e" stroke="#3c3c3c" stroke-width="0.6"/>
<text x="639" y="228.8" font-size="7.6" fill="#2a2a2a">shKRAS/RT</text>
<line x1="188.5" y1="301.5" x2="188.5" y2="368.95" stroke="#666" stroke-width="0.9"/>
<line x1="184.3" y1="368.5" x2="188.5" y2="368.5" stroke="#666" stroke-width="0.9"/>
<text x="183.2" y="371.2" font-size="7.5" text-anchor="end" fill="#2a2a2a">0</text>
<line x1="184.3" y1="346.17" x2="188.5" y2="346.17" stroke="#666" stroke-width="0.9"/>
<line x1="184.3" y1="323.83" x2="188.5" y2="323.83" stroke="#666" stroke-width="0.9"/>
<text x="183.2" y="326.53" font-size="7.5" text-anchor="end" fill="#2a2a2a">2</text>
<line x1="184.3" y1="301.5" x2="188.5" y2="301.5" stroke="#666" stroke-width="0.9"/>
<rect x="192.2" y="346.17" width="8.6" height="22.33" fill="#7a7a7a" stroke="#3c3c3c" stroke-width="0.6"/>
<line x1="196.5" y1="346.17" x2="196.5" y2="345.05" stroke="#444" stroke-width="0.8"/>
<line x1="194.1" y1="345.05" x2="198.9" y2="345.05" stroke="#444" stroke-width="0.8"/>
<rect x="205" y="326.51" width="8.6" height="41.99" fill="#ef3b3e" stroke="#3c3c3c" stroke-width="0.6"/>
<line x1="209.3" y1="326.51" x2="209.3" y2="320.93" stroke="#444" stroke-width="0.8"/>
<line x1="206.9" y1="320.93" x2="211.7" y2="320.93" stroke="#444" stroke-width="0.8"/>
<rect x="222.1" y="346.17" width="8.6" height="22.33" fill="#7a7a7a" stroke="#3c3c3c" stroke-width="0.6"/>
<line x1="226.4" y1="346.17" x2="226.4" y2="343.93" stroke="#444" stroke-width="0.8"/>
<line x1="224" y1="343.93" x2="228.8" y2="343.93" stroke="#444" stroke-width="0.8"/>
<rect x="235.3" y="351.3" width="8.6" height="17.2" fill="#ef3b3e" stroke="#3c3c3c" stroke-width="0.6"/>
<line x1="239.6" y1="351.3" x2="239.6" y2="348.18" stroke="#444" stroke-width="0.8"/>
<line x1="237.2" y1="348.18" x2="242" y2="348.18" stroke="#444" stroke-width="0.8"/>
<rect x="252.2" y="346.17" width="8.6" height="22.33" fill="#7a7a7a" stroke="#3c3c3c" stroke-width="0.6"/>
<line x1="256.5" y1="346.17" x2="256.5" y2="342.82" stroke="#444" stroke-width="0.8"/>
<line x1="254.1" y1="342.82" x2="258.9" y2="342.82" stroke="#444" stroke-width="0.8"/>
<rect x="265.3" y="321.6" width="8.6" height="46.9" fill="#ef3b3e" stroke="#3c3c3c" stroke-width="0.6"/>
<line x1="269.6" y1="321.6" x2="269.6" y2="313.56" stroke="#444" stroke-width="0.8"/>
<line x1="267.2" y1="313.56" x2="272" y2="313.56" stroke="#444" stroke-width="0.8"/>
<line x1="188.05" y1="368.5" x2="278.2" y2="368.5" stroke="#666" stroke-width="0.9"/>
<line x1="203.2" y1="368.5" x2="203.2" y2="371.1" stroke="#444" stroke-width="0.8"/>
<line x1="232.6" y1="368.5" x2="232.6" y2="371.1" stroke="#444" stroke-width="0.8"/>
<line x1="262.4" y1="368.5" x2="262.4" y2="371.1" stroke="#444" stroke-width="0.8"/>
<path d="M195.3 340.5V318.3H209.4V320" stroke="#555" stroke-width="0.85" fill="none"/>
<polygon points="200.65,313.1 201.21,314.44 202.65,314.55 201.55,315.49 201.88,316.9 200.65,316.14 199.42,316.9 199.75,315.49 198.65,314.55 200.09,314.44" fill="#2a2a2a"/>
<polygon points="204.95,313.1 205.51,314.44 206.95,314.55 205.85,315.49 206.18,316.9 204.95,316.14 203.72,316.9 204.05,315.49 202.95,314.55 204.39,314.44" fill="#2a2a2a"/>
<path d="M256.6 339V308.5H269.7V311" stroke="#555" stroke-width="0.85" fill="none"/>
<polygon points="260.85,303.6 261.41,304.94 262.85,305.05 261.75,305.99 262.08,307.4 260.85,306.64 259.62,307.4 259.95,305.99 258.85,305.05 260.29,304.94" fill="#2a2a2a"/>
<polygon points="265.15,303.6 265.71,304.94 267.15,305.05 266.05,305.99 266.38,307.4 265.15,306.64 263.92,307.4 264.25,305.99 263.15,305.05 264.59,304.94" fill="#2a2a2a"/>
<text x="202.7" y="378.6" font-size="7.4" text-anchor="middle" fill="#2a2a2a">DNMT1</text>
<text x="235.8" y="378.6" font-size="7.4" text-anchor="middle" fill="#2a2a2a">DNMT3a</text>
<text x="269.2" y="378.6" font-size="7.4" text-anchor="middle" fill="#2a2a2a">DNMT3b</text>
<text x="231.3" y="297.2" font-size="7.6" text-anchor="middle" fill="#2a2a2a">WiDr</text>
<text transform="translate(174.6 337.9) rotate(-90)" text-anchor="middle" font-size="7.35" fill="#2a2a2a">Rel. protein level (FC)</text>
<rect x="284.2" y="309.2" width="11.5" height="5.2" fill="#7a7a7a" stroke="#3c3c3c" stroke-width="0.6"/>
<text x="297.5" y="314.5" font-size="6.9" fill="#2a2a2a" stroke="none">Vec.</text>
<rect x="284.2" y="318.5" width="11.5" height="5.2" fill="#ef3b3e" stroke="#3c3c3c" stroke-width="0.6"/>
<text x="297.5" y="323.8" font-size="6.9" fill="#2a2a2a" stroke="none">G12D</text>
<line x1="188.2" y1="404" x2="188.2" y2="472.65" stroke="#666" stroke-width="0.9"/>
<line x1="184" y1="472.2" x2="188.2" y2="472.2" stroke="#666" stroke-width="0.9"/>
<text x="182.9" y="474.9" font-size="7.5" text-anchor="end" fill="#2a2a2a">0</text>
<line x1="184" y1="455.15" x2="188.2" y2="455.15" stroke="#666" stroke-width="0.9"/>
<line x1="184" y1="438.1" x2="188.2" y2="438.1" stroke="#666" stroke-width="0.9"/>
<text x="182.9" y="440.8" font-size="7.5" text-anchor="end" fill="#2a2a2a">2</text>
<line x1="184" y1="421.05" x2="188.2" y2="421.05" stroke="#666" stroke-width="0.9"/>
<line x1="184" y1="404" x2="188.2" y2="404" stroke="#666" stroke-width="0.9"/>
<text x="182.9" y="406.7" font-size="7.5" text-anchor="end" fill="#2a2a2a">4</text>
<rect x="192.2" y="455.32" width="8.5" height="16.88" fill="#7a7a7a" stroke="#3c3c3c" stroke-width="0.6"/>
<line x1="196.45" y1="455.32" x2="196.45" y2="453.27" stroke="#444" stroke-width="0.8"/>
<line x1="194.05" y1="453.27" x2="198.85" y2="453.27" stroke="#444" stroke-width="0.8"/>
<rect x="205" y="421.73" width="8.5" height="50.47" fill="#ef3b3e" stroke="#3c3c3c" stroke-width="0.6"/>
<line x1="209.25" y1="421.73" x2="209.25" y2="418.49" stroke="#444" stroke-width="0.8"/>
<line x1="206.85" y1="418.49" x2="211.65" y2="418.49" stroke="#444" stroke-width="0.8"/>
<rect x="222.3" y="455.15" width="8.5" height="17.05" fill="#7a7a7a" stroke="#3c3c3c" stroke-width="0.6"/>
<line x1="226.55" y1="455.15" x2="226.55" y2="453.79" stroke="#444" stroke-width="0.8"/>
<line x1="224.15" y1="453.79" x2="228.95" y2="453.79" stroke="#444" stroke-width="0.8"/>
<rect x="235.4" y="459.07" width="8.5" height="13.13" fill="#ef3b3e" stroke="#3c3c3c" stroke-width="0.6"/>
<line x1="239.65" y1="459.07" x2="239.65" y2="455.32" stroke="#444" stroke-width="0.8"/>
<line x1="237.25" y1="455.32" x2="242.05" y2="455.32" stroke="#444" stroke-width="0.8"/>
<rect x="252.9" y="455.15" width="8.5" height="17.05" fill="#7a7a7a" stroke="#3c3c3c" stroke-width="0.6"/>
<line x1="257.15" y1="455.15" x2="257.15" y2="453.79" stroke="#444" stroke-width="0.8"/>
<line x1="254.75" y1="453.79" x2="259.55" y2="453.79" stroke="#444" stroke-width="0.8"/>
<rect x="265.6" y="420.2" width="8.5" height="52" fill="#ef3b3e" stroke="#3c3c3c" stroke-width="0.6"/>
<line x1="269.85" y1="420.2" x2="269.85" y2="415.94" stroke="#444" stroke-width="0.8"/>
<line x1="267.45" y1="415.94" x2="272.25" y2="415.94" stroke="#444" stroke-width="0.8"/>
<line x1="187.75" y1="472.2" x2="278.2" y2="472.2" stroke="#666" stroke-width="0.9"/>
<line x1="202.4" y1="472.2" x2="202.4" y2="474.8" stroke="#444" stroke-width="0.8"/>
<line x1="233" y1="472.2" x2="233" y2="474.8" stroke="#444" stroke-width="0.8"/>
<line x1="263.4" y1="472.2" x2="263.4" y2="474.8" stroke="#444" stroke-width="0.8"/>
<path d="M195.3 450V415.2H209.7V417.4" stroke="#555" stroke-width="0.85" fill="none"/>
<polygon points="201.15,410.4 201.71,411.74 203.15,411.85 202.05,412.79 202.38,414.2 201.15,413.44 199.92,414.2 200.25,412.79 199.15,411.85 200.59,411.74" fill="#2a2a2a"/>
<polygon points="205.45,410.4 206.01,411.74 207.45,411.85 206.35,412.79 206.68,414.2 205.45,413.44 204.22,414.2 204.55,412.79 203.45,411.85 204.89,411.74" fill="#2a2a2a"/>
<path d="M257.6 443.4V412H269.8V414.5" stroke="#555" stroke-width="0.85" fill="none"/>
<polygon points="261.45,407.4 262.01,408.74 263.45,408.85 262.35,409.79 262.68,411.2 261.45,410.44 260.22,411.2 260.55,409.79 259.45,408.85 260.89,408.74" fill="#2a2a2a"/>
<polygon points="265.75,407.4 266.31,408.74 267.75,408.85 266.65,409.79 266.98,411.2 265.75,410.44 264.52,411.2 264.85,409.79 263.75,408.85 265.19,408.74" fill="#2a2a2a"/>
<text x="202.8" y="482.5" font-size="7.4" text-anchor="middle" fill="#2a2a2a">DNMT1</text>
<text x="235.9" y="482.5" font-size="7.4" text-anchor="middle" fill="#2a2a2a">DNMT3a</text>
<text x="269.2" y="482.5" font-size="7.4" text-anchor="middle" fill="#2a2a2a">DNMT3b</text>
<text x="233.5" y="401.1" font-size="7.6" text-anchor="middle" fill="#2a2a2a">CoLo320</text>
<text transform="translate(174.6 440.9) rotate(-90)" text-anchor="middle" font-size="7.35" fill="#2a2a2a">Rel. protein level (FC)</text>
<rect x="284" y="412.2" width="11.2" height="5.4" fill="#7a7a7a" stroke="#3c3c3c" stroke-width="0.6"/>
<text x="297.2" y="417.6" font-size="6.9" fill="#2a2a2a" stroke="none">Vec.</text>
<rect x="284" y="421.6" width="11.2" height="5.4" fill="#ef3b3e" stroke="#3c3c3c" stroke-width="0.6"/>
<text x="297.2" y="427" font-size="6.9" fill="#2a2a2a" stroke="none">G12D</text>
<line x1="547.7" y1="300.8" x2="547.7" y2="368.95" stroke="#666" stroke-width="0.9"/>
<line x1="543.5" y1="368.5" x2="547.7" y2="368.5" stroke="#666" stroke-width="0.9"/>
<text x="542.4" y="371.2" font-size="7.5" text-anchor="end" fill="#2a2a2a">0</text>
<line x1="543.5" y1="345.93" x2="547.7" y2="345.93" stroke="#666" stroke-width="0.9"/>
<line x1="543.5" y1="323.37" x2="547.7" y2="323.37" stroke="#666" stroke-width="0.9"/>
<text x="542.4" y="326.07" font-size="7.5" text-anchor="end" fill="#2a2a2a">1</text>
<line x1="543.5" y1="300.8" x2="547.7" y2="300.8" stroke="#666" stroke-width="0.9"/>
<rect x="552.4" y="323.37" width="8.5" height="45.13" fill="#7a7a7a" stroke="#3c3c3c" stroke-width="0.6"/>
<line x1="556.65" y1="323.37" x2="556.65" y2="319.3" stroke="#444" stroke-width="0.8"/>
<line x1="554.25" y1="319.3" x2="559.05" y2="319.3" stroke="#444" stroke-width="0.8"/>
<rect x="565.3" y="358.57" width="8.5" height="9.93" fill="#ef3b3e" stroke="#3c3c3c" stroke-width="0.6"/>
<line x1="569.55" y1="358.57" x2="569.55" y2="353.61" stroke="#444" stroke-width="0.8"/>
<line x1="567.15" y1="353.61" x2="571.95" y2="353.61" stroke="#444" stroke-width="0.8"/>
<rect x="582.5" y="323.37" width="8.5" height="45.13" fill="#7a7a7a" stroke="#3c3c3c" stroke-width="0.6"/>
<line x1="586.75" y1="323.37" x2="586.75" y2="319.3" stroke="#444" stroke-width="0.8"/>
<line x1="584.35" y1="319.3" x2="589.15" y2="319.3" stroke="#444" stroke-width="0.8"/>
<rect x="595.6" y="353.15" width="8.5" height="15.35" fill="#ef3b3e" stroke="#3c3c3c" stroke-width="0.6"/>
<line x1="599.85" y1="353.15" x2="599.85" y2="348.19" stroke="#444" stroke-width="0.8"/>
<line x1="597.45" y1="348.19" x2="602.25" y2="348.19" stroke="#444" stroke-width="0.8"/>
<rect x="613.4" y="323.37" width="8.5" height="45.13" fill="#7a7a7a" stroke="#3c3c3c" stroke-width="0.6"/>
<line x1="617.65" y1="323.37" x2="617.65" y2="319.3" stroke="#444" stroke-width="0.8"/>
<line x1="615.25" y1="319.3" x2="620.05" y2="319.3" stroke="#444" stroke-width="0.8"/>
<rect x="626.2" y="349.09" width="8.5" height="19.41" fill="#ef3b3e" stroke="#3c3c3c" stroke-width="0.6"/>
<line x1="630.45" y1="349.09" x2="630.45" y2="341.87" stroke="#444" stroke-width="0.8"/>
<line x1="628.05" y1="341.87" x2="632.85" y2="341.87" stroke="#444" stroke-width="0.8"/>
<line x1="547.25" y1="368.5" x2="638.5" y2="368.5" stroke="#666" stroke-width="0.9"/>
<line x1="562.3" y1="368.5" x2="562.3" y2="371.1" stroke="#444" stroke-width="0.8"/>
<line x1="593" y1="368.5" x2="593" y2="371.1" stroke="#444" stroke-width="0.8"/>
<line x1="623.6" y1="368.5" x2="623.6" y2="371.1" stroke="#444" stroke-width="0.8"/>
<path d="M556.5 317.1V313.2H569.6V350.7" stroke="#555" stroke-width="0.85" fill="none"/>
<polygon points="560.65,307.5 561.21,308.84 562.65,308.95 561.55,309.89 561.88,311.3 560.65,310.55 559.42,311.3 559.75,309.89 558.65,308.95 560.09,308.84" fill="#2a2a2a"/>
<polygon points="564.95,307.5 565.51,308.84 566.95,308.95 565.85,309.89 566.18,311.3 564.95,310.55 563.72,311.3 564.05,309.89 562.95,308.95 564.39,308.84" fill="#2a2a2a"/>
<path d="M586.4 317.1V313.2H599.6V346.3" stroke="#555" stroke-width="0.85" fill="none"/>
<polygon points="591.25,307.5 591.81,308.84 593.25,308.95 592.15,309.89 592.48,311.3 591.25,310.55 590.02,311.3 590.35,309.89 589.25,308.95 590.69,308.84" fill="#2a2a2a"/>
<polygon points="595.55,307.5 596.11,308.84 597.55,308.95 596.45,309.89 596.78,311.3 595.55,310.55 594.32,311.3 594.65,309.89 593.55,308.95 594.99,308.84" fill="#2a2a2a"/>
<path d="M617.6 317.1V313.2H630.4V338.5" stroke="#555" stroke-width="0.85" fill="none"/>
<polygon points="621.65,307.5 622.21,308.84 623.65,308.95 622.55,309.89 622.88,311.3 621.65,310.55 620.42,311.3 620.75,309.89 619.65,308.95 621.09,308.84" fill="#2a2a2a"/>
<polygon points="625.95,307.5 626.51,308.84 627.95,308.95 626.85,309.89 627.18,311.3 625.95,310.55 624.72,311.3 625.05,309.89 623.95,308.95 625.39,308.84" fill="#2a2a2a"/>
<text x="562.7" y="378.1" font-size="7.4" text-anchor="middle" fill="#2a2a2a">DNMT1</text>
<text x="595.6" y="378.1" font-size="7.4" text-anchor="middle" fill="#2a2a2a">DNMT3a</text>
<text x="628.4" y="378.1" font-size="7.4" text-anchor="middle" fill="#2a2a2a">DNMT3b</text>
<text x="593" y="297.6" font-size="7.6" text-anchor="middle" fill="#2a2a2a">HCT116</text>
<text transform="translate(534.4 338.3) rotate(-90)" text-anchor="middle" font-size="7.6" fill="#2a2a2a">Rel. protein level (FC)</text>
<rect x="644" y="309.2" width="11.4" height="5.2" fill="#7a7a7a" stroke="#3c3c3c" stroke-width="0.6"/>
<text x="657.3" y="314.5" font-size="6.95" fill="#2a2a2a" stroke="none">shNC.</text>
<rect x="644" y="319.2" width="11.4" height="5.2" fill="#ef3b3e" stroke="#3c3c3c" stroke-width="0.6"/>
<text x="657.3" y="324.5" font-size="6.95" fill="#2a2a2a" stroke="none">shKRAS</text>
<line x1="548.2" y1="403.7" x2="548.2" y2="471.85" stroke="#666" stroke-width="0.9"/>
<line x1="544" y1="471.4" x2="548.2" y2="471.4" stroke="#666" stroke-width="0.9"/>
<text x="542.9" y="474.1" font-size="7.5" text-anchor="end" fill="#2a2a2a">0</text>
<line x1="544" y1="448.83" x2="548.2" y2="448.83" stroke="#666" stroke-width="0.9"/>
<line x1="544" y1="426.27" x2="548.2" y2="426.27" stroke="#666" stroke-width="0.9"/>
<text x="542.9" y="428.97" font-size="7.5" text-anchor="end" fill="#2a2a2a">1</text>
<line x1="544" y1="403.7" x2="548.2" y2="403.7" stroke="#666" stroke-width="0.9"/>
<rect x="552" y="426.27" width="8.5" height="45.13" fill="#7a7a7a" stroke="#3c3c3c" stroke-width="0.6"/>
<line x1="556.25" y1="426.27" x2="556.25" y2="421.3" stroke="#444" stroke-width="0.8"/>
<line x1="553.85" y1="421.3" x2="558.65" y2="421.3" stroke="#444" stroke-width="0.8"/>
<rect x="565" y="465.08" width="8.5" height="6.32" fill="#ef3b3e" stroke="#3c3c3c" stroke-width="0.6"/>
<line x1="569.25" y1="465.08" x2="569.25" y2="460.57" stroke="#444" stroke-width="0.8"/>
<line x1="566.85" y1="460.57" x2="571.65" y2="460.57" stroke="#444" stroke-width="0.8"/>
<rect x="582.2" y="426.27" width="8.5" height="45.13" fill="#7a7a7a" stroke="#3c3c3c" stroke-width="0.6"/>
<line x1="586.45" y1="426.27" x2="586.45" y2="421.3" stroke="#444" stroke-width="0.8"/>
<line x1="584.05" y1="421.3" x2="588.85" y2="421.3" stroke="#444" stroke-width="0.8"/>
<rect x="595.2" y="465.98" width="8.5" height="5.42" fill="#ef3b3e" stroke="#3c3c3c" stroke-width="0.6"/>
<line x1="599.45" y1="465.98" x2="599.45" y2="461.47" stroke="#444" stroke-width="0.8"/>
<line x1="597.05" y1="461.47" x2="601.85" y2="461.47" stroke="#444" stroke-width="0.8"/>
<rect x="612.3" y="426.27" width="8.5" height="45.13" fill="#7a7a7a" stroke="#3c3c3c" stroke-width="0.6"/>
<line x1="616.55" y1="426.27" x2="616.55" y2="422.2" stroke="#444" stroke-width="0.8"/>
<line x1="614.15" y1="422.2" x2="618.95" y2="422.2" stroke="#444" stroke-width="0.8"/>
<rect x="625.3" y="463.28" width="8.5" height="8.12" fill="#ef3b3e" stroke="#3c3c3c" stroke-width="0.6"/>
<line x1="629.55" y1="463.28" x2="629.55" y2="458.31" stroke="#444" stroke-width="0.8"/>
<line x1="627.15" y1="458.31" x2="631.95" y2="458.31" stroke="#444" stroke-width="0.8"/>
<line x1="547.75" y1="471.4" x2="638.5" y2="471.4" stroke="#666" stroke-width="0.9"/>
<line x1="562.9" y1="471.4" x2="562.9" y2="474" stroke="#444" stroke-width="0.8"/>
<line x1="593" y1="471.4" x2="593" y2="474" stroke="#444" stroke-width="0.8"/>
<line x1="623.2" y1="471.4" x2="623.2" y2="474" stroke="#444" stroke-width="0.8"/>
<path d="M556.1 419.1V416H568.9V453.3" stroke="#555" stroke-width="0.85" fill="none"/>
<polygon points="560.05,409.7 560.61,411.04 562.05,411.15 560.95,412.09 561.28,413.5 560.05,412.75 558.82,413.5 559.15,412.09 558.05,411.15 559.49,411.04" fill="#2a2a2a"/>
<polygon points="564.35,409.7 564.91,411.04 566.35,411.15 565.25,412.09 565.58,413.5 564.35,412.75 563.12,413.5 563.45,412.09 562.35,411.15 563.79,411.04" fill="#2a2a2a"/>
<path d="M586.3 419.1V416H599.5V453.3" stroke="#555" stroke-width="0.85" fill="none"/>
<polygon points="590.15,409.7 590.71,411.04 592.15,411.15 591.05,412.09 591.38,413.5 590.15,412.75 588.92,413.5 589.25,412.09 588.15,411.15 589.59,411.04" fill="#2a2a2a"/>
<polygon points="594.45,409.7 595.01,411.04 596.45,411.15 595.35,412.09 595.68,413.5 594.45,412.75 593.22,413.5 593.55,412.09 592.45,411.15 593.89,411.04" fill="#2a2a2a"/>
<path d="M616.4 419.1V416H629.6V441.3" stroke="#555" stroke-width="0.85" fill="none"/>
<polygon points="620.95,409.7 621.51,411.04 622.95,411.15 621.85,412.09 622.18,413.5 620.95,412.75 619.72,413.5 620.05,412.09 618.95,411.15 620.39,411.04" fill="#2a2a2a"/>
<polygon points="625.25,409.7 625.81,411.04 627.25,411.15 626.15,412.09 626.48,413.5 625.25,412.75 624.02,413.5 624.35,412.09 623.25,411.15 624.69,411.04" fill="#2a2a2a"/>
<text x="562.3" y="480.9" font-size="7.4" text-anchor="middle" fill="#2a2a2a">DNMT1</text>
<text x="594.8" y="480.9" font-size="7.4" text-anchor="middle" fill="#2a2a2a">DNMT3a</text>
<text x="628.8" y="480.9" font-size="7.4" text-anchor="middle" fill="#2a2a2a">DNMT3b</text>
<text x="593" y="401.1" font-size="7.6" text-anchor="middle" fill="#2a2a2a">SW620</text>
<text transform="translate(534.2 440.6) rotate(-90)" text-anchor="middle" font-size="7.6" fill="#2a2a2a">Rel. protein level (FC)</text>
<rect x="644.6" y="410.7" width="11.5" height="5.1" fill="#7a7a7a" stroke="#3c3c3c" stroke-width="0.6"/>
<text x="657.8" y="415.95" font-size="6.95" fill="#2a2a2a" stroke="none">shNC.</text>
<rect x="644.6" y="420.3" width="11.5" height="5.1" fill="#ef3b3e" stroke="#3c3c3c" stroke-width="0.6"/>
<text x="657.8" y="425.55" font-size="6.95" fill="#2a2a2a" stroke="none">shKRAS</text>
<line x1="190.1" y1="519" x2="190.1" y2="585.05" stroke="#666" stroke-width="0.9"/>
<line x1="185.9" y1="584.6" x2="190.1" y2="584.6" stroke="#666" stroke-width="0.9"/>
<text x="184.8" y="587.3" font-size="7.5" text-anchor="end" fill="#2a2a2a">0</text>
<line x1="185.9" y1="568.2" x2="190.1" y2="568.2" stroke="#666" stroke-width="0.9"/>
<line x1="185.9" y1="551.8" x2="190.1" y2="551.8" stroke="#666" stroke-width="0.9"/>
<text x="184.8" y="554.5" font-size="7.5" text-anchor="end" fill="#2a2a2a">1</text>
<line x1="185.9" y1="535.4" x2="190.1" y2="535.4" stroke="#666" stroke-width="0.9"/>
<line x1="185.9" y1="519" x2="190.1" y2="519" stroke="#666" stroke-width="0.9"/>
<text x="184.8" y="521.7" font-size="7.5" text-anchor="end" fill="#2a2a2a">2</text>
<rect x="194.1" y="552.13" width="8.2" height="32.47" fill="#7a7a7a" stroke="#3c3c3c" stroke-width="0.6"/>
<rect x="206.9" y="571.15" width="8.2" height="13.45" fill="#ef3b3e" stroke="#3c3c3c" stroke-width="0.6"/>
<line x1="211" y1="571.15" x2="211" y2="567.22" stroke="#444" stroke-width="0.8"/>
<line x1="208.6" y1="567.22" x2="213.4" y2="567.22" stroke="#444" stroke-width="0.8"/>
<rect x="223.3" y="547.21" width="8.2" height="37.39" fill="#7a7a7a" stroke="#3c3c3c" stroke-width="0.6"/>
<line x1="227.4" y1="547.21" x2="227.4" y2="543.27" stroke="#444" stroke-width="0.8"/>
<line x1="225" y1="543.27" x2="229.8" y2="543.27" stroke="#444" stroke-width="0.8"/>
<rect x="236.2" y="567.87" width="8.2" height="16.73" fill="#ef3b3e" stroke="#3c3c3c" stroke-width="0.6"/>
<line x1="240.3" y1="567.87" x2="240.3" y2="564.92" stroke="#444" stroke-width="0.8"/>
<line x1="237.9" y1="564.92" x2="242.7" y2="564.92" stroke="#444" stroke-width="0.8"/>
<rect x="252.7" y="538.35" width="8.2" height="46.25" fill="#7a7a7a" stroke="#3c3c3c" stroke-width="0.6"/>
<line x1="256.8" y1="538.35" x2="256.8" y2="534.42" stroke="#444" stroke-width="0.8"/>
<line x1="254.4" y1="534.42" x2="259.2" y2="534.42" stroke="#444" stroke-width="0.8"/>
<rect x="265.5" y="557.38" width="8.2" height="27.22" fill="#ef3b3e" stroke="#3c3c3c" stroke-width="0.6"/>
<line x1="269.6" y1="557.38" x2="269.6" y2="553.44" stroke="#444" stroke-width="0.8"/>
<line x1="267.2" y1="553.44" x2="272" y2="553.44" stroke="#444" stroke-width="0.8"/>
<line x1="189.65" y1="584.6" x2="276.5" y2="584.6" stroke="#666" stroke-width="0.9"/>
<line x1="204.5" y1="584.6" x2="204.5" y2="587.2" stroke="#444" stroke-width="0.8"/>
<line x1="233.8" y1="584.6" x2="233.8" y2="587.2" stroke="#444" stroke-width="0.8"/>
<line x1="262.8" y1="584.6" x2="262.8" y2="587.2" stroke="#444" stroke-width="0.8"/>
<path d="M198.6 550.1V546.6H211V566.2" stroke="#555" stroke-width="0.85" fill="none"/>
<polygon points="202.85,540.4 203.41,541.74 204.85,541.85 203.75,542.79 204.08,544.2 202.85,543.45 201.62,544.2 201.95,542.79 200.85,541.85 202.29,541.74" fill="#2a2a2a"/>
<polygon points="207.15,540.4 207.71,541.74 209.15,541.85 208.05,542.79 208.38,544.2 207.15,543.45 205.92,544.2 206.25,542.79 205.15,541.85 206.59,541.74" fill="#2a2a2a"/>
<path d="M227.8 542.1V539.8H240.2V564.2" stroke="#555" stroke-width="0.85" fill="none"/>
<polygon points="231.75,534.7 232.31,536.04 233.75,536.15 232.65,537.09 232.98,538.5 231.75,537.75 230.52,538.5 230.85,537.09 229.75,536.15 231.19,536.04" fill="#2a2a2a"/>
<polygon points="236.05,534.7 236.61,536.04 238.05,536.15 236.95,537.09 237.28,538.5 236.05,537.75 234.82,538.5 235.15,537.09 234.05,536.15 235.49,536.04" fill="#2a2a2a"/>
<path d="M256.7 531V528.9H269.1V553" stroke="#555" stroke-width="0.85" fill="none"/>
<polygon points="262.3,523.1 262.86,524.44 264.3,524.55 263.2,525.49 263.53,526.9 262.3,526.15 261.07,526.9 261.4,525.49 260.3,524.55 261.74,524.44" fill="#2a2a2a"/>
<path d="M198.6 550.1V524.9H256.7V527" stroke="#555" stroke-width="0.85" fill="none"/>
<polygon points="227.3,519.9 227.86,521.24 229.3,521.35 228.2,522.29 228.53,523.7 227.3,522.95 226.07,523.7 226.4,522.29 225.3,521.35 226.74,521.24" fill="#2a2a2a"/>
<path d="M211.4 522.5V519.3H269.6V524.1" stroke="#555" stroke-width="0.85" fill="none"/>
<polygon points="242.3,513.8 242.86,515.14 244.3,515.25 243.2,516.19 243.53,517.6 242.3,516.85 241.07,517.6 241.4,516.19 240.3,515.25 241.74,515.14" fill="#2a2a2a"/>
<text x="204.2" y="595.4" font-size="7.4" text-anchor="middle" fill="#2a2a2a">0.0</text>
<text x="234.2" y="595.4" font-size="7.4" text-anchor="middle" fill="#2a2a2a">2.5</text>
<text x="263.1" y="595.4" font-size="7.4" text-anchor="middle" fill="#2a2a2a">5.0</text>
<text x="232.6" y="513.9" font-size="7.6" text-anchor="middle" fill="#2a2a2a">WiDr</text>
<text x="191" y="595.2" font-size="6.6" text-anchor="end" fill="#2a2a2a" stroke="none">AZA (μM)</text>
<text transform="translate(175.5 550) rotate(-90)" text-anchor="middle" font-size="7.6" fill="#2a2a2a">Rel. protein level (FC)</text>
<rect x="284.3" y="511" width="11" height="5.8" fill="#7a7a7a" stroke="#3c3c3c" stroke-width="0.6"/>
<text x="296.6" y="516.6" font-size="7.6" fill="#2a2a2a">Vec.</text>
<rect x="284.3" y="520.7" width="11" height="5.8" fill="#ef3b3e" stroke="#3c3c3c" stroke-width="0.6"/>
<text x="296.6" y="526.3" font-size="7.6" fill="#2a2a2a">G12D</text>
<line x1="190.7" y1="617.4" x2="190.7" y2="682.85" stroke="#666" stroke-width="0.9"/>
<line x1="186.5" y1="682.4" x2="190.7" y2="682.4" stroke="#666" stroke-width="0.9"/>
<text x="185.4" y="685.1" font-size="7.5" text-anchor="end" fill="#2a2a2a">0</text>
<line x1="186.5" y1="669.4" x2="190.7" y2="669.4" stroke="#666" stroke-width="0.9"/>
<line x1="186.5" y1="656.4" x2="190.7" y2="656.4" stroke="#666" stroke-width="0.9"/>
<text x="185.4" y="659.1" font-size="7.5" text-anchor="end" fill="#2a2a2a">1</text>
<line x1="186.5" y1="643.4" x2="190.7" y2="643.4" stroke="#666" stroke-width="0.9"/>
<line x1="186.5" y1="630.4" x2="190.7" y2="630.4" stroke="#666" stroke-width="0.9"/>
<text x="185.4" y="633.1" font-size="7.5" text-anchor="end" fill="#2a2a2a">2</text>
<line x1="186.5" y1="617.4" x2="190.7" y2="617.4" stroke="#666" stroke-width="0.9"/>
<rect x="195.1" y="656.4" width="8" height="26" fill="#7a7a7a" stroke="#3c3c3c" stroke-width="0.6"/>
<rect x="207.9" y="665.24" width="8" height="17.16" fill="#ef3b3e" stroke="#3c3c3c" stroke-width="0.6"/>
<line x1="211.9" y1="665.24" x2="211.9" y2="662.12" stroke="#444" stroke-width="0.8"/>
<line x1="209.5" y1="662.12" x2="214.3" y2="662.12" stroke="#444" stroke-width="0.8"/>
<rect x="224" y="652.5" width="8" height="29.9" fill="#7a7a7a" stroke="#3c3c3c" stroke-width="0.6"/>
<line x1="228" y1="652.5" x2="228" y2="648.6" stroke="#444" stroke-width="0.8"/>
<line x1="225.6" y1="648.6" x2="230.4" y2="648.6" stroke="#444" stroke-width="0.8"/>
<rect x="236.3" y="655.62" width="8" height="26.78" fill="#ef3b3e" stroke="#3c3c3c" stroke-width="0.6"/>
<line x1="240.3" y1="655.62" x2="240.3" y2="652.76" stroke="#444" stroke-width="0.8"/>
<line x1="237.9" y1="652.76" x2="242.7" y2="652.76" stroke="#444" stroke-width="0.8"/>
<rect x="253.2" y="642.36" width="8" height="40.04" fill="#7a7a7a" stroke="#3c3c3c" stroke-width="0.6"/>
<line x1="257.2" y1="642.36" x2="257.2" y2="639.24" stroke="#444" stroke-width="0.8"/>
<line x1="254.8" y1="639.24" x2="259.6" y2="639.24" stroke="#444" stroke-width="0.8"/>
<rect x="265.7" y="636.12" width="8" height="46.28" fill="#ef3b3e" stroke="#3c3c3c" stroke-width="0.6"/>
<line x1="269.7" y1="636.12" x2="269.7" y2="632.74" stroke="#444" stroke-width="0.8"/>
<line x1="267.3" y1="632.74" x2="272.1" y2="632.74" stroke="#444" stroke-width="0.8"/>
<line x1="190.25" y1="682.4" x2="277" y2="682.4" stroke="#666" stroke-width="0.9"/>
<line x1="205.5" y1="682.4" x2="205.5" y2="685" stroke="#444" stroke-width="0.8"/>
<line x1="234.4" y1="682.4" x2="234.4" y2="685" stroke="#444" stroke-width="0.8"/>
<line x1="263.3" y1="682.4" x2="263.3" y2="685" stroke="#444" stroke-width="0.8"/>
<path d="M198.8 654.8V652.4H211.6V661.2" stroke="#555" stroke-width="0.85" fill="none"/>
<polygon points="204.4,647.7 204.96,649.04 206.4,649.15 205.3,650.09 205.63,651.5 204.4,650.75 203.17,651.5 203.5,650.09 202.4,649.15 203.84,649.04" fill="#2a2a2a"/>
<path d="M198.8 647.6V633.9H256.9V636.3" stroke="#555" stroke-width="0.85" fill="none"/>
<polygon points="227.2,628.9 227.76,630.24 229.2,630.35 228.1,631.29 228.43,632.7 227.2,631.95 225.97,632.7 226.3,631.29 225.2,630.35 226.64,630.24" fill="#2a2a2a"/>
<path d="M211.6 631.2V628.3H269.7V630.7" stroke="#555" stroke-width="0.85" fill="none"/>
<polygon points="238.65,622.5 239.21,623.84 240.65,623.95 239.55,624.89 239.88,626.3 238.65,625.55 237.42,626.3 237.75,624.89 236.65,623.95 238.09,623.84" fill="#2a2a2a"/>
<polygon points="242.95,622.5 243.51,623.84 244.95,623.95 243.85,624.89 244.18,626.3 242.95,625.55 241.72,626.3 242.05,624.89 240.95,623.95 242.39,623.84" fill="#2a2a2a"/>
<text x="205.5" y="692.8" font-size="7.4" text-anchor="middle" fill="#2a2a2a">0.0</text>
<text x="234.4" y="692.8" font-size="7.4" text-anchor="middle" fill="#2a2a2a">2.5</text>
<text x="263.3" y="692.8" font-size="7.4" text-anchor="middle" fill="#2a2a2a">5.0</text>
<text x="228.8" y="613.3" font-size="7.6" text-anchor="middle" fill="#2a2a2a">CoLo320</text>
<text x="192" y="692.6" font-size="6.6" text-anchor="end" fill="#2a2a2a" stroke="none">AZA (μM)</text>
<text transform="translate(176.1 648.2) rotate(-90)" text-anchor="middle" font-size="7.6" fill="#2a2a2a">Rel. protein level (FC)</text>
<rect x="283.9" y="614.9" width="11" height="5.6" fill="#7a7a7a" stroke="#3c3c3c" stroke-width="0.6"/>
<text x="296.5" y="620.4" font-size="7.6" fill="#2a2a2a">Vec.</text>
<rect x="283.9" y="624.2" width="11" height="5.6" fill="#ef3b3e" stroke="#3c3c3c" stroke-width="0.6"/>
<text x="296.5" y="629.7" font-size="7.6" fill="#2a2a2a">G12D</text>
<line x1="351.5" y1="570.2" x2="351.5" y2="665.15" stroke="#666" stroke-width="0.9"/>
<line x1="347.3" y1="664.7" x2="351.5" y2="664.7" stroke="#666" stroke-width="0.9"/>
<text x="346.2" y="667.4" font-size="7.5" text-anchor="end" fill="#2a2a2a">0</text>
<line x1="347.3" y1="645.8" x2="351.5" y2="645.8" stroke="#666" stroke-width="0.9"/>
<line x1="347.3" y1="626.9" x2="351.5" y2="626.9" stroke="#666" stroke-width="0.9"/>
<text x="346.2" y="629.6" font-size="7.5" text-anchor="end" fill="#2a2a2a">2</text>
<line x1="347.3" y1="608" x2="351.5" y2="608" stroke="#666" stroke-width="0.9"/>
<line x1="347.3" y1="589.1" x2="351.5" y2="589.1" stroke="#666" stroke-width="0.9"/>
<text x="346.2" y="591.8" font-size="7.5" text-anchor="end" fill="#2a2a2a">4</text>
<line x1="347.3" y1="570.2" x2="351.5" y2="570.2" stroke="#666" stroke-width="0.9"/>
<rect x="355.7" y="645.8" width="8" height="18.9" fill="#7a7a7a" stroke="#3c3c3c" stroke-width="0.6"/>
<line x1="359.7" y1="645.8" x2="359.7" y2="644.86" stroke="#444" stroke-width="0.8"/>
<line x1="357.5" y1="644.86" x2="361.9" y2="644.86" stroke="#444" stroke-width="0.8"/>
<rect x="368.3" y="624.44" width="8" height="40.26" fill="#3aa05a" stroke="#3c3c3c" stroke-width="0.6"/>
<line x1="372.3" y1="624.44" x2="372.3" y2="622.55" stroke="#444" stroke-width="0.8"/>
<line x1="370.1" y1="622.55" x2="374.5" y2="622.55" stroke="#444" stroke-width="0.8"/>
<rect x="380.4" y="616.13" width="8" height="48.57" fill="#4a4ff0" stroke="#3c3c3c" stroke-width="0.6"/>
<line x1="384.4" y1="616.13" x2="384.4" y2="607.62" stroke="#444" stroke-width="0.8"/>
<line x1="382.2" y1="607.62" x2="386.6" y2="607.62" stroke="#444" stroke-width="0.8"/>
<rect x="392.7" y="591.94" width="8" height="72.76" fill="#ef3b3e" stroke="#3c3c3c" stroke-width="0.6"/>
<line x1="396.7" y1="591.94" x2="396.7" y2="586.27" stroke="#444" stroke-width="0.8"/>
<line x1="394.5" y1="586.27" x2="398.9" y2="586.27" stroke="#444" stroke-width="0.8"/>
<rect x="409" y="645.8" width="8" height="18.9" fill="#7a7a7a" stroke="#3c3c3c" stroke-width="0.6"/>
<line x1="413" y1="645.8" x2="413" y2="644.67" stroke="#444" stroke-width="0.8"/>
<line x1="410.8" y1="644.67" x2="415.2" y2="644.67" stroke="#444" stroke-width="0.8"/>
<rect x="421.1" y="632.76" width="8" height="31.94" fill="#3aa05a" stroke="#3c3c3c" stroke-width="0.6"/>
<line x1="425.1" y1="632.76" x2="425.1" y2="628.98" stroke="#444" stroke-width="0.8"/>
<line x1="422.9" y1="628.98" x2="427.3" y2="628.98" stroke="#444" stroke-width="0.8"/>
<rect x="433.4" y="623.5" width="8" height="41.2" fill="#4a4ff0" stroke="#3c3c3c" stroke-width="0.6"/>
<line x1="437.4" y1="623.5" x2="437.4" y2="617.26" stroke="#444" stroke-width="0.8"/>
<line x1="435.2" y1="617.26" x2="439.6" y2="617.26" stroke="#444" stroke-width="0.8"/>
<rect x="445.8" y="612.35" width="8" height="52.35" fill="#ef3b3e" stroke="#3c3c3c" stroke-width="0.6"/>
<line x1="449.8" y1="612.35" x2="449.8" y2="608.57" stroke="#444" stroke-width="0.8"/>
<line x1="447.6" y1="608.57" x2="452" y2="608.57" stroke="#444" stroke-width="0.8"/>
<line x1="351.05" y1="664.7" x2="456.7" y2="664.7" stroke="#666" stroke-width="0.9"/>
<line x1="359.7" y1="664.7" x2="359.7" y2="667.3" stroke="#444" stroke-width="0.8"/>
<line x1="372.3" y1="664.7" x2="372.3" y2="667.3" stroke="#444" stroke-width="0.8"/>
<line x1="384.4" y1="664.7" x2="384.4" y2="667.3" stroke="#444" stroke-width="0.8"/>
<line x1="396.7" y1="664.7" x2="396.7" y2="667.3" stroke="#444" stroke-width="0.8"/>
<line x1="413" y1="664.7" x2="413" y2="667.3" stroke="#444" stroke-width="0.8"/>
<line x1="425.1" y1="664.7" x2="425.1" y2="667.3" stroke="#444" stroke-width="0.8"/>
<line x1="437.4" y1="664.7" x2="437.4" y2="667.3" stroke="#444" stroke-width="0.8"/>
<line x1="449.8" y1="664.7" x2="449.8" y2="667.3" stroke="#444" stroke-width="0.8"/>
<path d="M359.3 644V574.4H383.8V580.5" stroke="#555" stroke-width="0.85" fill="none"/>
<line x1="366.9" y1="580.5" x2="400.6" y2="580.5" stroke="#555" stroke-width="0.85"/>
<polygon points="371.1,569.2 371.66,570.54 373.1,570.65 372,571.59 372.33,573 371.1,572.25 369.87,573 370.2,571.59 369.1,570.65 370.54,570.54" fill="#2a2a2a"/>
<path d="M412.4 644V594.6H437.1V601" stroke="#555" stroke-width="0.85" fill="none"/>
<line x1="421.1" y1="601" x2="454.5" y2="601" stroke="#555" stroke-width="0.85"/>
<polygon points="425.9,588.8 426.46,590.14 427.9,590.25 426.8,591.19 427.13,592.6 425.9,591.85 424.67,592.6 425,591.19 423.9,590.25 425.34,590.14" fill="#2a2a2a"/>
<line x1="404.8" y1="571.6" x2="404.8" y2="664.7" stroke="#777" stroke-width="0.8" stroke-dasharray="2.2 1.6"/>
<text x="410.4" y="552" font-size="9.2" text-anchor="middle" font-style="italic" fill="#222">STING</text>
<text x="381.5" y="567.8" font-size="7.4" text-anchor="middle" fill="#2a2a2a">HCT116</text>
<text x="432.9" y="567.8" font-size="7.4" text-anchor="middle" fill="#2a2a2a">SW620</text>
<text transform="translate(337.6 617.5) rotate(-90)" text-anchor="middle" font-size="9" fill="#2a2a2a">Rel.<tspan font-style="italic">STING/GAPDH</tspan> level</text>
<rect x="459.5" y="573.5" width="10.7" height="5.7" fill="#7a7a7a" stroke="#3c3c3c" stroke-width="0.6"/>
<text x="471.6" y="579.05" font-size="7.4" fill="#2a2a2a">shNC</text>
<rect x="459.5" y="583.4" width="10.7" height="5.7" fill="#3aa05a" stroke="#3c3c3c" stroke-width="0.6"/>
<text x="471.6" y="588.95" font-size="7.4" fill="#2a2a2a">shDNMT1</text>
<rect x="459.5" y="593.5" width="10.7" height="5.7" fill="#4a4ff0" stroke="#3c3c3c" stroke-width="0.6"/>
<text x="471.6" y="599.05" font-size="7.4" fill="#2a2a2a">shDNMT3a</text>
<rect x="459.5" y="603" width="10.7" height="5.7" fill="#ef3b3e" stroke="#3c3c3c" stroke-width="0.6"/>
<text x="471.6" y="608.55" font-size="7.4" fill="#2a2a2a">shDNMT3b</text>
<rect x="48.6" y="346.1" width="36.1" height="19.3" fill="#ababab"/>
<rect x="48.6" y="346.1" width="36.1" height="19.3" fill="#000" filter="url(#nz)" opacity="0.16"/>
<rect x="87.7" y="346.1" width="36.1" height="19.3" fill="#eaeaea"/>
<rect x="87.7" y="346.1" width="36.1" height="19.3" fill="#000" filter="url(#nz)" opacity="0.08"/>
<rect x="48.6" y="367.4" width="36.1" height="19.4" fill="#9a9a9a"/>
<rect x="48.6" y="367.4" width="36.1" height="19.4" fill="#000" filter="url(#nz)" opacity="0.16"/>
<rect x="87.7" y="367.4" width="36.1" height="19.4" fill="#9e9e9e"/>
<rect x="87.7" y="367.4" width="36.1" height="19.4" fill="#000" filter="url(#nz)" opacity="0.16"/>
<rect x="48.6" y="388.2" width="36.1" height="19.3" fill="#d0d0d0"/>
<rect x="87.7" y="388.2" width="36.1" height="19.3" fill="#979797"/>
<rect x="87.7" y="388.2" width="36.1" height="19.3" fill="#000" filter="url(#nz)" opacity="0.16"/>
<rect x="48.6" y="408.8" width="36.1" height="19.4" fill="#f1f1f1"/>
<rect x="87.7" y="408.8" width="36.1" height="19.4" fill="#f0f0f0"/>
<rect x="48.6" y="430" width="36.1" height="18.8" fill="#d8d8d8"/>
<rect x="87.7" y="430" width="36.1" height="18.8" fill="#f2f2f2"/>
<rect x="48.6" y="451.2" width="36.1" height="19.2" fill="#e6e6e6"/>
<rect x="87.7" y="451.2" width="36.1" height="19.2" fill="#e8e8e8"/>
<rect x="63.8" y="346.3" width="4.8" height="18.9" fill="#c8c8c8" opacity="0.9"/>
<ellipse cx="56.5" cy="356" rx="6.5" ry="7" fill="#777" opacity="0.55" filter="url(#b2)"/>
<rect x="69.5" y="349.3" width="13" height="4" rx="2" fill="url(#g666)" opacity="0.45"/>
<rect x="69.7" y="354.5" width="13.2" height="5.2" rx="2.2" fill="url(#g151515)" opacity="0.9"/>
<rect x="109.6" y="354.4" width="10.8" height="4.4" rx="2.2" fill="url(#g111)" opacity="0.92"/>
<rect x="51.5" y="374.4" width="13" height="4.4" rx="2.2" fill="url(#g2a2a2a)" opacity="0.9"/>
<rect x="69" y="374.7" width="13" height="4.1" rx="2.05" fill="url(#g4a4a4a)" opacity="0.8"/>
<rect x="90.6" y="373.6" width="14.4" height="5.8" rx="2.2" fill="url(#g0a0a0a)" opacity="1"/>
<rect x="109.2" y="374" width="12.2" height="5.2" rx="2.2" fill="url(#g111)" opacity="0.95"/>
<rect x="51.8" y="394.7" width="13.2" height="4.8" rx="2.2" fill="url(#g1a1a1a)" opacity="0.92"/>
<rect x="69.2" y="394.5" width="13.6" height="5.6" rx="2.2" fill="url(#g0a0a0a)" opacity="1"/>
<rect x="102.2" y="388.4" width="5" height="18.9" fill="#b4b4b4" opacity="0.85"/>
<ellipse cx="95" cy="396.5" rx="6" ry="6" fill="#5a5a5a" opacity="0.5" filter="url(#b2)"/>
<ellipse cx="114.5" cy="397" rx="7.5" ry="7" fill="#3a3a3a" opacity="0.6" filter="url(#b2)"/>
<rect x="108.5" y="393.7" width="12.5" height="5" rx="2.2" fill="url(#g222)" opacity="0.75"/>
<rect x="51.2" y="414.7" width="12.5" height="4.7" rx="2.2" fill="url(#g111)" opacity="0.95"/>
<rect x="69.5" y="415.7" width="12" height="3.6" rx="1.8" fill="url(#gbbb)" opacity="0.5"/>
<rect x="90.9" y="416.9" width="13" height="5" rx="2.2" fill="url(#g111)" opacity="0.95"/>
<rect x="107.5" y="417.9" width="12.8" height="3.8" rx="1.9" fill="url(#g999)" opacity="0.6"/>
<rect x="51" y="436.5" width="14.6" height="5.8" rx="2.2" fill="url(#g151515)" opacity="0.9"/>
<rect x="69.2" y="437.1" width="15" height="4.8" rx="2.2" fill="url(#g444)" opacity="0.8"/>
<rect x="91.4" y="434.6" width="12" height="6.8" rx="2.2" fill="url(#g050505)" opacity="1"/>
<rect x="109.6" y="436.9" width="10.8" height="4.4" rx="2.2" fill="url(#g333)" opacity="0.85"/>
<rect x="50.8" y="458.1" width="15" height="5.6" rx="2.2" fill="url(#g0a0a0a)" opacity="1"/>
<rect x="68.5" y="458.1" width="15" height="5.6" rx="2.2" fill="url(#g0a0a0a)" opacity="1"/>
<rect x="90" y="458.1" width="15" height="5.6" rx="2.2" fill="url(#g0a0a0a)" opacity="1"/>
<rect x="108" y="458.1" width="15" height="5.6" rx="2.2" fill="url(#g0a0a0a)" opacity="1"/>
<rect x="48.6" y="346.1" width="36.1" height="19.3" fill="none" stroke="#4a4a4a" stroke-width="0.8"/>
<rect x="87.7" y="346.1" width="36.1" height="19.3" fill="none" stroke="#4a4a4a" stroke-width="0.8"/>
<rect x="48.6" y="367.4" width="36.1" height="19.4" fill="none" stroke="#4a4a4a" stroke-width="0.8"/>
<rect x="87.7" y="367.4" width="36.1" height="19.4" fill="none" stroke="#4a4a4a" stroke-width="0.8"/>
<rect x="48.6" y="388.2" width="36.1" height="19.3" fill="none" stroke="#4a4a4a" stroke-width="0.8"/>
<rect x="87.7" y="388.2" width="36.1" height="19.3" fill="none" stroke="#4a4a4a" stroke-width="0.8"/>
<rect x="48.6" y="408.8" width="36.1" height="19.4" fill="none" stroke="#4a4a4a" stroke-width="0.8"/>
<rect x="87.7" y="408.8" width="36.1" height="19.4" fill="none" stroke="#4a4a4a" stroke-width="0.8"/>
<rect x="48.6" y="430" width="36.1" height="18.8" fill="none" stroke="#4a4a4a" stroke-width="0.8"/>
<rect x="87.7" y="430" width="36.1" height="18.8" fill="none" stroke="#4a4a4a" stroke-width="0.8"/>
<rect x="48.6" y="451.2" width="36.1" height="19.2" fill="none" stroke="#4a4a4a" stroke-width="0.8"/>
<rect x="87.7" y="451.2" width="36.1" height="19.2" fill="none" stroke="#4a4a4a" stroke-width="0.8"/>
<text x="46.4" y="359.75" font-size="9.1" text-anchor="end">DNMT1</text>
<text x="126.6" y="358.4" font-size="6.6" stroke="none">180 kDa</text>
<text x="46.4" y="381.25" font-size="9.1" text-anchor="end">DNMT3a</text>
<text x="126.6" y="379.7" font-size="6.6" stroke="none">130 kDa</text>
<text x="46.4" y="401.85" font-size="9.1" text-anchor="end">DNMT3b</text>
<text x="126.6" y="399.7" font-size="6.6" stroke="none">100 kDa</text>
<text x="46.4" y="423.35" font-size="9.1" text-anchor="end">p-STING</text>
<text x="126.6" y="421.9" font-size="6.6" stroke="none">41 kDa</text>
<text x="46.4" y="441.45" font-size="9.1" text-anchor="end">STING</text>
<text x="126.6" y="443.7" font-size="6.6" stroke="none">35 kDa</text>
<text x="46.4" y="465.85" font-size="9.1" text-anchor="end">β-Actin</text>
<text x="126.6" y="463.2" font-size="6.6" stroke="none">42 kDa</text>
<text x="68.3" y="305.8" font-size="9.2" text-anchor="middle">WiDr</text>
<line x1="51" y1="307.4" x2="84.8" y2="307.4" stroke="#222" stroke-width="0.9"/>
<text x="107.3" y="305.8" font-size="9.2" text-anchor="middle">CoLo320</text>
<line x1="89.5" y1="307.4" x2="123.6" y2="307.4" stroke="#222" stroke-width="0.9"/>
<text x="0" y="0" font-size="9" transform="translate(57.6 343.8) rotate(-56)">Vec.</text>
<text x="0" y="0" font-size="9" transform="translate(77.4 345.6) rotate(-56)">KRAS<tspan font-size="5.6" dy="-3.6" stroke="none">G12D</tspan></text>
<text x="0" y="0" font-size="9" transform="translate(96.6 343.8) rotate(-56)">Vec.</text>
<text x="0" y="0" font-size="9" transform="translate(115.4 345.6) rotate(-56)">KRAS<tspan font-size="5.6" dy="-3.6" stroke="none">G12D</tspan></text>
<rect x="365.6" y="353.6" width="39" height="14.9" fill="#f4f4f4"/>
<rect x="407.4" y="353.6" width="38.4" height="14.9" fill="#e4e4e4"/>
<rect x="449.3" y="353.6" width="39" height="14.9" fill="#e2e2e2"/>
<rect x="365.6" y="370.6" width="39" height="14.9" fill="#dadada"/>
<rect x="407.4" y="370.6" width="38.4" height="14.9" fill="#dedede"/>
<rect x="449.3" y="370.6" width="39" height="14.9" fill="#dcdcdc"/>
<rect x="365.6" y="387.6" width="39" height="15" fill="#b4b4b4"/>
<rect x="365.6" y="387.6" width="39" height="15" fill="#000" filter="url(#nz)" opacity="0.12"/>
<rect x="407.4" y="387.6" width="38.4" height="15" fill="#eeeeee"/>
<rect x="449.3" y="387.6" width="39" height="15" fill="#b8b8b8"/>
<rect x="449.3" y="387.6" width="39" height="15" fill="#000" filter="url(#nz)" opacity="0.12"/>
<rect x="365.6" y="404.6" width="39" height="14.8" fill="#d6d6d6"/>
<rect x="407.4" y="404.6" width="38.4" height="14.8" fill="#e0e0e0"/>
<rect x="449.3" y="404.6" width="39" height="14.8" fill="#dcdcdc"/>
<rect x="365.6" y="421.6" width="39" height="14.8" fill="#e2e2e2"/>
<rect x="407.4" y="421.6" width="38.4" height="14.8" fill="#e8e8e8"/>
<rect x="449.3" y="421.6" width="39" height="14.8" fill="#f2f2f2"/>
<rect x="365.6" y="438.5" width="39" height="14.7" fill="#e4e4e4"/>
<rect x="407.4" y="438.5" width="38.4" height="14.7" fill="#e8e8e8"/>
<rect x="449.3" y="438.5" width="39" height="14.7" fill="#dedede"/>
<rect x="365.6" y="455" width="39" height="15.2" fill="#eeeeee"/>
<rect x="407.4" y="455" width="38.4" height="15.2" fill="#dedede"/>
<rect x="449.3" y="455" width="39" height="15.2" fill="#dcdcdc"/>
<rect x="371.7" y="358.1" width="9.6" height="5.8" rx="2.2" fill="url(#g111)" opacity="0.95"/>
<rect x="367.7" y="358.2" width="6.6" height="4.8" rx="2.2" fill="url(#g444)" opacity="0.7"/>
<rect x="387.9" y="360.2" width="14.6" height="3.6" rx="1.8" fill="url(#g888)" opacity="0.7"/>
<rect x="410.15" y="359.2" width="14.1" height="4.2" rx="2.1" fill="url(#g2a2a2a)" opacity="0.9"/>
<rect x="429.7" y="360.3" width="12.6" height="3.4" rx="1.7" fill="url(#gaaa)" opacity="0.6"/>
<rect x="452.4" y="358.8" width="13.6" height="4" rx="2" fill="url(#g666)" opacity="0.75"/>
<rect x="473.3" y="359.9" width="10.6" height="3.2" rx="1.6" fill="url(#gccc)" opacity="0.4"/>
<rect x="366.9" y="375.7" width="16.6" height="4.8" rx="2.2" fill="url(#g2a2a2a)" opacity="0.9"/>
<rect x="386" y="376.1" width="17.6" height="4.4" rx="2.2" fill="url(#g333)" opacity="0.85"/>
<rect x="412.2" y="375.1" width="13.6" height="5.4" rx="2.2" fill="url(#g151515)" opacity="0.95"/>
<ellipse cx="419" cy="382.5" rx="6.3" ry="1.5" fill="#aaa" opacity="0.4" filter="url(#b2)"/>
<rect x="429" y="376.3" width="13.6" height="4" rx="2" fill="url(#g999)" opacity="0.65"/>
<rect x="452.65" y="375.3" width="15.1" height="5" rx="2.2" fill="url(#g1a1a1a)" opacity="0.95"/>
<rect x="471.8" y="376.4" width="13.6" height="4" rx="2" fill="url(#gbbb)" opacity="0.6"/>
<rect x="366.65" y="391.9" width="17.1" height="4.8" rx="2.2" fill="url(#g222)" opacity="0.9"/>
<rect x="386" y="392.1" width="17.6" height="4.8" rx="2.2" fill="url(#g333)" opacity="0.85"/>
<ellipse cx="395" cy="398.5" rx="7.8" ry="1.5" fill="#777" opacity="0.45" filter="url(#b2)"/>
<ellipse cx="375" cy="399" rx="7.8" ry="1.5" fill="#888" opacity="0.4" filter="url(#b2)"/>
<rect x="409.7" y="393.2" width="14.6" height="3.6" rx="1.8" fill="url(#g222)" opacity="0.9"/>
<rect x="429.45" y="393.55" width="14.1" height="3.5" rx="1.75" fill="url(#g444)" opacity="0.8"/>
<ellipse cx="460" cy="395" rx="7.8" ry="2.8" fill="#1a1a1a" opacity="0.9" filter="url(#b2)"/>
<rect x="452.7" y="392.3" width="14.6" height="5" rx="2.2" fill="url(#g111)" opacity="0.8"/>
<ellipse cx="478.6" cy="395.5" rx="7.3" ry="3" fill="#555" opacity="0.6" filter="url(#b2)"/>
<rect x="366.9" y="409.5" width="16.6" height="4.8" rx="2.2" fill="url(#g222)" opacity="0.9"/>
<rect x="386" y="409" width="17.6" height="5.4" rx="2.2" fill="url(#g080808)" opacity="1"/>
<rect x="409.2" y="409.7" width="15.6" height="4.6" rx="2.2" fill="url(#g444)" opacity="0.85"/>
<rect x="428.2" y="409.3" width="15.6" height="5" rx="2.2" fill="url(#g333)" opacity="0.9"/>
<rect x="451.7" y="409.9" width="14.6" height="4.2" rx="2.1" fill="url(#g555)" opacity="0.85"/>
<rect x="470.8" y="409.5" width="15.6" height="4.6" rx="2.2" fill="url(#g333)" opacity="0.9"/>
<rect x="366.9" y="426.2" width="16.6" height="4.8" rx="2.2" fill="url(#g444)" opacity="0.85"/>
<rect x="386" y="425.7" width="17.6" height="5.8" rx="2.2" fill="url(#g151515)" opacity="0.95"/>
<rect x="410.2" y="426.2" width="13.6" height="4.4" rx="2.2" fill="url(#g444)" opacity="0.85"/>
<rect x="429" y="426" width="14.6" height="5.2" rx="2.2" fill="url(#g151515)" opacity="0.95"/>
<rect x="452.5" y="427" width="12.6" height="3.6" rx="1.8" fill="url(#gaaa)" opacity="0.6"/>
<rect x="471.8" y="426.2" width="13.6" height="4.4" rx="2.2" fill="url(#g444)" opacity="0.85"/>
<rect x="366.2" y="442.7" width="12.6" height="5.4" rx="2.2" fill="url(#g080808)" opacity="1"/>
<rect x="388.2" y="443.8" width="12.6" height="4" rx="2" fill="url(#g888)" opacity="0.7"/>
<rect x="409.7" y="443.4" width="12.6" height="4" rx="2" fill="url(#g888)" opacity="0.75"/>
<rect x="452.7" y="442.4" width="14.6" height="5.6" rx="2.2" fill="url(#g050505)" opacity="1"/>
<rect x="473.2" y="443.9" width="11.6" height="3.8" rx="1.9" fill="url(#g999)" opacity="0.7"/>
<rect x="366.4" y="460.6" width="17.6" height="5.6" rx="2.2" fill="url(#g0a0a0a)" opacity="1"/>
<rect x="386" y="460.6" width="17.6" height="5.6" rx="2.2" fill="url(#g0a0a0a)" opacity="1"/>
<rect x="408.7" y="460.6" width="17.6" height="5.6" rx="2.2" fill="url(#g0a0a0a)" opacity="1"/>
<rect x="427.5" y="460.6" width="17.6" height="5.6" rx="2.2" fill="url(#g0a0a0a)" opacity="1"/>
<rect x="450.4" y="460.6" width="17.6" height="5.6" rx="2.2" fill="url(#g0a0a0a)" opacity="1"/>
<rect x="469.8" y="460.6" width="17.6" height="5.6" rx="2.2" fill="url(#g0a0a0a)" opacity="1"/>
<rect x="365.6" y="353.6" width="39" height="14.9" fill="none" stroke="#4a4a4a" stroke-width="0.8"/>
<rect x="407.4" y="353.6" width="38.4" height="14.9" fill="none" stroke="#4a4a4a" stroke-width="0.8"/>
<rect x="449.3" y="353.6" width="39" height="14.9" fill="none" stroke="#4a4a4a" stroke-width="0.8"/>
<rect x="365.6" y="370.6" width="39" height="14.9" fill="none" stroke="#4a4a4a" stroke-width="0.8"/>
<rect x="407.4" y="370.6" width="38.4" height="14.9" fill="none" stroke="#4a4a4a" stroke-width="0.8"/>
<rect x="449.3" y="370.6" width="39" height="14.9" fill="none" stroke="#4a4a4a" stroke-width="0.8"/>
<rect x="365.6" y="387.6" width="39" height="15" fill="none" stroke="#4a4a4a" stroke-width="0.8"/>
<rect x="407.4" y="387.6" width="38.4" height="15" fill="none" stroke="#4a4a4a" stroke-width="0.8"/>
<rect x="449.3" y="387.6" width="39" height="15" fill="none" stroke="#4a4a4a" stroke-width="0.8"/>
<rect x="365.6" y="404.6" width="39" height="14.8" fill="none" stroke="#4a4a4a" stroke-width="0.8"/>
<rect x="407.4" y="404.6" width="38.4" height="14.8" fill="none" stroke="#4a4a4a" stroke-width="0.8"/>
<rect x="449.3" y="404.6" width="39" height="14.8" fill="none" stroke="#4a4a4a" stroke-width="0.8"/>
<rect x="365.6" y="421.6" width="39" height="14.8" fill="none" stroke="#4a4a4a" stroke-width="0.8"/>
<rect x="407.4" y="421.6" width="38.4" height="14.8" fill="none" stroke="#4a4a4a" stroke-width="0.8"/>
<rect x="449.3" y="421.6" width="39" height="14.8" fill="none" stroke="#4a4a4a" stroke-width="0.8"/>
<rect x="365.6" y="438.5" width="39" height="14.7" fill="none" stroke="#4a4a4a" stroke-width="0.8"/>
<rect x="407.4" y="438.5" width="38.4" height="14.7" fill="none" stroke="#4a4a4a" stroke-width="0.8"/>
<rect x="449.3" y="438.5" width="39" height="14.7" fill="none" stroke="#4a4a4a" stroke-width="0.8"/>
<rect x="365.6" y="455" width="39" height="15.2" fill="none" stroke="#4a4a4a" stroke-width="0.8"/>
<rect x="407.4" y="455" width="38.4" height="15.2" fill="none" stroke="#4a4a4a" stroke-width="0.8"/>
<rect x="449.3" y="455" width="39" height="15.2" fill="none" stroke="#4a4a4a" stroke-width="0.8"/>
<text x="363.8" y="364.95" font-size="9" text-anchor="end">DNMT1</text>
<text x="502.4" y="363.55" font-size="6.9" text-anchor="middle" stroke="none">180 kDa</text>
<text x="363.8" y="381.95" font-size="9" text-anchor="end">DNMT3a</text>
<text x="502.4" y="380.55" font-size="6.9" text-anchor="middle" stroke="none">130 kDa</text>
<text x="363.8" y="399" font-size="9" text-anchor="end">DNMT3b</text>
<text x="502.4" y="397.6" font-size="6.9" text-anchor="middle" stroke="none">100 kDa</text>
<text x="363.8" y="415.9" font-size="9" text-anchor="end">p-STING</text>
<text x="502.4" y="414.5" font-size="6.9" text-anchor="middle" stroke="none">41 kDa</text>
<text x="363.8" y="432.9" font-size="9" text-anchor="end">STING</text>
<text x="502.4" y="431.5" font-size="6.9" text-anchor="middle" stroke="none">35 kDa</text>
<text x="363.8" y="449.75" font-size="9" text-anchor="end">KRAS</text>
<text x="502.4" y="448.35" font-size="6.9" text-anchor="middle" stroke="none">26 kDa</text>
<text x="363.8" y="466.5" font-size="9" text-anchor="end">β-Actin</text>
<text x="502.4" y="465.1" font-size="6.9" text-anchor="middle" stroke="none">42 kDa</text>
<text x="383.5" y="309.3" font-size="8.4" text-anchor="middle">CT26</text>
<line x1="368.2" y1="311.3" x2="401.8" y2="311.3" stroke="#222" stroke-width="0.9"/>
<text x="427.5" y="309.3" font-size="8.4" text-anchor="middle">HCT116</text>
<line x1="409.2" y1="311.3" x2="445.2" y2="311.3" stroke="#222" stroke-width="0.9"/>
<text x="467.2" y="309.3" font-size="8.4" text-anchor="middle">SW620</text>
<line x1="451" y1="311.3" x2="485" y2="311.3" stroke="#222" stroke-width="0.9"/>
<text x="0" y="0" font-size="8.7" transform="translate(375.1 352) rotate(-58)">shNC</text>
<text x="0" y="0" font-size="8.7" transform="translate(394.8 352) rotate(-58)">shKRAS</text>
<text x="0" y="0" font-size="8.7" transform="translate(416.6 352) rotate(-58)">shNC</text>
<text x="0" y="0" font-size="8.7" transform="translate(435.6 352) rotate(-58)">shKRAS</text>
<text x="0" y="0" font-size="8.7" transform="translate(458.6 352) rotate(-58)">shNC</text>
<text x="0" y="0" font-size="8.7" transform="translate(478.2 352) rotate(-58)">shKRAS</text>
<rect x="49.5" y="532.4" width="85.1" height="19.3" fill="#f0f0f0"/>
<rect x="49.5" y="553.3" width="85.1" height="19.1" fill="#ececec"/>
<rect x="50.75" y="540.4" width="12.5" height="5.2" rx="2.2" fill="url(#g2a2a2a)" opacity="0.95"/>
<ellipse cx="57" cy="543.2" rx="6" ry="3" fill="#888" opacity="0.25" filter="url(#b2)"/>
<rect x="51" y="560.8" width="12" height="4.8" rx="2.2" fill="url(#g0a0a0a)" opacity="1"/>
<rect x="64.05" y="540.4" width="12.5" height="5.2" rx="2.2" fill="url(#g2a2a2a)" opacity="0.95"/>
<ellipse cx="70.3" cy="543.2" rx="6" ry="3" fill="#888" opacity="0.25" filter="url(#b2)"/>
<rect x="64.3" y="560.8" width="12" height="4.8" rx="2.2" fill="url(#g0a0a0a)" opacity="1"/>
<rect x="77.45" y="540.4" width="12.5" height="5.2" rx="2.2" fill="url(#g111)" opacity="0.95"/>
<ellipse cx="83.7" cy="543.2" rx="6" ry="3" fill="#888" opacity="0.25" filter="url(#b2)"/>
<rect x="77.7" y="560.8" width="12" height="4.8" rx="2.2" fill="url(#g0a0a0a)" opacity="1"/>
<rect x="91.3" y="541.3" width="12" height="4.2" rx="2.1" fill="url(#g888)" opacity="0.85"/>
<ellipse cx="97.3" cy="543.4" rx="6" ry="2" fill="#bbb" opacity="0.25" filter="url(#b2)"/>
<rect x="91.3" y="560.8" width="12" height="4.8" rx="2.2" fill="url(#g0a0a0a)" opacity="1"/>
<rect x="104.7" y="541.3" width="12" height="4.2" rx="2.1" fill="url(#g888)" opacity="0.85"/>
<ellipse cx="110.7" cy="543.4" rx="6" ry="2" fill="#bbb" opacity="0.25" filter="url(#b2)"/>
<rect x="104.7" y="560.8" width="12" height="4.8" rx="2.2" fill="url(#g0a0a0a)" opacity="1"/>
<rect x="118.4" y="541.3" width="12" height="4.2" rx="2.1" fill="url(#g888)" opacity="0.85"/>
<ellipse cx="124.4" cy="543.4" rx="6" ry="2" fill="#bbb" opacity="0.25" filter="url(#b2)"/>
<rect x="118.4" y="560.8" width="12" height="4.8" rx="2.2" fill="url(#g0a0a0a)" opacity="1"/>
<rect x="49.5" y="532.4" width="85.1" height="19.3" fill="none" stroke="#4a4a4a" stroke-width="0.8"/>
<rect x="49.5" y="553.3" width="85.1" height="19.1" fill="none" stroke="#4a4a4a" stroke-width="0.8"/>
<rect x="49.4" y="634.6" width="84.3" height="19.2" fill="#fafafa"/>
<rect x="49.4" y="655.3" width="84.3" height="20" fill="url(#hgap)"/>
<rect x="51.25" y="642.4" width="10.5" height="4" rx="2" fill="url(#g151515)" opacity="0.85"/>
<rect x="50" y="660.3" width="13" height="4.2" rx="2.1" fill="url(#g151515)" opacity="0.95"/>
<rect x="50.25" y="665.7" width="12.5" height="3.4" rx="1.7" fill="url(#g8a8a8a)" opacity="0.6"/>
<rect x="64.75" y="642.4" width="10.5" height="4" rx="2" fill="url(#g151515)" opacity="0.85"/>
<rect x="63.5" y="660.3" width="13" height="4.2" rx="2.1" fill="url(#g151515)" opacity="0.95"/>
<rect x="63.75" y="665.7" width="12.5" height="3.4" rx="1.7" fill="url(#g8a8a8a)" opacity="0.6"/>
<rect x="78.55" y="642.4" width="10.5" height="4" rx="2" fill="url(#g151515)" opacity="0.9"/>
<rect x="77.3" y="660.3" width="13" height="4.2" rx="2.1" fill="url(#g151515)" opacity="0.95"/>
<rect x="77.55" y="665.7" width="12.5" height="3.4" rx="1.7" fill="url(#g8a8a8a)" opacity="0.6"/>
<rect x="91.75" y="642.4" width="10.5" height="4" rx="2" fill="url(#g151515)" opacity="0.75"/>
<rect x="90.5" y="660.3" width="13" height="4.2" rx="2.1" fill="url(#g151515)" opacity="0.95"/>
<rect x="90.75" y="665.7" width="12.5" height="3.4" rx="1.7" fill="url(#g8a8a8a)" opacity="0.6"/>
<rect x="105.55" y="642.4" width="10.5" height="4" rx="2" fill="url(#g151515)" opacity="0.85"/>
<rect x="104.3" y="660.3" width="13" height="4.2" rx="2.1" fill="url(#g151515)" opacity="0.95"/>
<rect x="104.55" y="665.7" width="12.5" height="3.4" rx="1.7" fill="url(#g8a8a8a)" opacity="0.6"/>
<rect x="119.55" y="641.9" width="10.5" height="5" rx="2.2" fill="url(#g151515)" opacity="1"/>
<rect x="118.3" y="660.3" width="13" height="4.2" rx="2.1" fill="url(#g151515)" opacity="0.95"/>
<rect x="118.55" y="665.7" width="12.5" height="3.4" rx="1.7" fill="url(#g8a8a8a)" opacity="0.6"/>
<rect x="49.4" y="634.6" width="84.3" height="19.2" fill="none" stroke="#4a4a4a" stroke-width="0.8"/>
<rect x="49.4" y="655.3" width="84.3" height="20" fill="none" stroke="#4a4a4a" stroke-width="0.8"/>
<text x="70.4" y="519.1" font-size="7.6" text-anchor="middle">Vec.</text>
<line x1="52.4" y1="520.5" x2="89.6" y2="520.5" stroke="#2a2a2a" stroke-width="0.85"/>
<text x="94.4" y="519.1" font-size="7.6">KRAS<tspan font-size="4.6" dy="-3" stroke="none">G12D</tspan></text>
<line x1="93.8" y1="520.5" x2="131.3" y2="520.5" stroke="#2a2a2a" stroke-width="0.85"/>
<text x="70.4" y="621.9" font-size="7.6" text-anchor="middle">Vec.</text>
<line x1="52.4" y1="623.5" x2="89.6" y2="623.5" stroke="#2a2a2a" stroke-width="0.85"/>
<text x="94.4" y="621.9" font-size="7.6">KRAS<tspan font-size="4.6" dy="-3" stroke="none">G12D</tspan></text>
<line x1="93.8" y1="623.5" x2="131.3" y2="623.5" stroke="#2a2a2a" stroke-width="0.85"/>
<text x="49.6" y="529.4" font-size="7.4" text-anchor="end">AZA (μM)</text>
<text x="57.1" y="529.4" font-size="7.6" text-anchor="middle">–</text>
<text x="70.8" y="529.4" font-size="7.6" text-anchor="middle">2.5</text>
<text x="85.7" y="529.4" font-size="7.6" text-anchor="middle">5.0</text>
<text x="98.7" y="529.4" font-size="7.6" text-anchor="middle">–</text>
<text x="112.4" y="529.4" font-size="7.6" text-anchor="middle">2.5</text>
<text x="126.6" y="529.4" font-size="7.6" text-anchor="middle">5.0</text>
<text x="49.6" y="632.6" font-size="7.4" text-anchor="end">AZA (μM)</text>
<text x="57.1" y="632.6" font-size="7.6" text-anchor="middle">–</text>
<text x="70.8" y="632.6" font-size="7.6" text-anchor="middle">2.5</text>
<text x="85.7" y="632.6" font-size="7.6" text-anchor="middle">5.0</text>
<text x="98.7" y="632.6" font-size="7.6" text-anchor="middle">–</text>
<text x="112.4" y="632.6" font-size="7.6" text-anchor="middle">2.5</text>
<text x="126.6" y="632.6" font-size="7.6" text-anchor="middle">5.0</text>
<text x="15.2" y="545.6" font-size="9.6" stroke="none" textLength="31.8" lengthAdjust="spacingAndGlyphs">STING</text>
<text x="14.4" y="566" font-size="9.3" stroke="none" textLength="32.4" lengthAdjust="spacingAndGlyphs">GAPDH</text>
<text x="136" y="543.8" font-size="6.6" stroke="none">36 kDa</text>
<text x="136" y="564.2" font-size="6.6" stroke="none">37 kDa</text>
<text x="93.4" y="579.9" font-size="8.6" text-anchor="middle" stroke="none">WiDr</text>
<text x="13.6" y="647.7" font-size="9.6" stroke="none" textLength="33.2" lengthAdjust="spacingAndGlyphs">STING</text>
<text x="13.4" y="667.9" font-size="9.3" stroke="none" textLength="32.7" lengthAdjust="spacingAndGlyphs">GAPDH</text>
<text x="136" y="646.8" font-size="6.6" stroke="none">35 kDa</text>
<text x="136" y="665.8" font-size="6.6" stroke="none">37 kDa</text>
<text x="91" y="683" font-size="7.6" text-anchor="middle" stroke="none">CoLo320</text>
<rect x="553.7" y="568.1" width="57.6" height="17.8" fill="#f4f4f4"/>
<rect x="613.7" y="568.1" width="57.8" height="17.8" fill="#f4f4f4"/>
<rect x="553.7" y="594.4" width="57.6" height="18.3" fill="#e6e6e6"/>
<rect x="553.7" y="594.4" width="57.6" height="18.3" fill="#000" filter="url(#nz)" opacity="0.1"/>
<rect x="613.7" y="594.4" width="57.8" height="18.3" fill="#e8e8e8"/>
<rect x="613.7" y="594.4" width="57.8" height="18.3" fill="#000" filter="url(#nz)" opacity="0.1"/>
<rect x="553.7" y="614.6" width="57.6" height="17" fill="#f2f2f2"/>
<rect x="613.7" y="614.6" width="57.8" height="17" fill="#f0f0f0"/>
<rect x="553.7" y="633.5" width="57.6" height="16.9" fill="#f0f0f0"/>
<rect x="613.7" y="633.5" width="57.8" height="16.9" fill="#f0f0f0"/>
<rect x="553.7" y="652.4" width="57.6" height="17.7" fill="#f4f4f4"/>
<rect x="613.7" y="652.4" width="57.8" height="17.7" fill="#f2f2f2"/>
<rect x="556" y="574.8" width="12" height="5" rx="2.2" fill="url(#g0a0a0a)" opacity="1"/>
<ellipse cx="562" cy="606" rx="6.25" ry="5" fill="#888" opacity="0.6" filter="url(#b2)"/>
<rect x="556" y="601.6" width="12" height="3.6" rx="1.8" fill="url(#g444)" opacity="0.75"/>
<rect x="556" y="605.2" width="12" height="4.8" rx="2.2" fill="url(#g888)" opacity="0.45"/>
<rect x="556" y="619.1" width="12" height="5" rx="2.2" fill="url(#g111)" opacity="1"/>
<rect x="556" y="626.6" width="12" height="3.6" rx="1.8" fill="url(#g999)" opacity="0.5"/>
<rect x="555.75" y="639.95" width="12.5" height="3.7" rx="1.85" fill="url(#g222)" opacity="0.87"/>
<rect x="555.5" y="657.4" width="13" height="5.2" rx="2.2" fill="url(#g0a0a0a)" opacity="1"/>
<rect x="570" y="574.8" width="12" height="5" rx="2.2" fill="url(#g0a0a0a)" opacity="0.85"/>
<ellipse cx="576" cy="606" rx="6.25" ry="5" fill="#888" opacity="0.2" filter="url(#b2)"/>
<rect x="570" y="601.6" width="12" height="3.6" rx="1.8" fill="url(#g444)" opacity="0.25"/>
<rect x="570" y="605.2" width="12" height="4.8" rx="2.2" fill="url(#g888)" opacity="0.15"/>
<rect x="570" y="619.1" width="12" height="5" rx="2.2" fill="url(#g111)" opacity="0.55"/>
<rect x="570" y="626.6" width="12" height="3.6" rx="1.8" fill="url(#g999)" opacity="0.39"/>
<rect x="569.75" y="639.95" width="12.5" height="3.7" rx="1.85" fill="url(#g222)" opacity="0.87"/>
<rect x="569.5" y="657.4" width="13" height="5.2" rx="2.2" fill="url(#g0a0a0a)" opacity="1"/>
<rect x="584.4" y="574.8" width="12" height="5" rx="2.2" fill="url(#g0a0a0a)" opacity="1"/>
<ellipse cx="590.4" cy="606" rx="6.25" ry="5" fill="#888" opacity="0.6" filter="url(#b2)"/>
<rect x="584.4" y="601.6" width="12" height="3.6" rx="1.8" fill="url(#g444)" opacity="0.75"/>
<rect x="584.4" y="605.2" width="12" height="4.8" rx="2.2" fill="url(#g888)" opacity="0.45"/>
<rect x="584.4" y="619.1" width="12" height="5" rx="2.2" fill="url(#g111)" opacity="0.08"/>
<rect x="584.4" y="626.6" width="12" height="3.6" rx="1.8" fill="url(#g999)" opacity="0.27"/>
<rect x="584.15" y="639.95" width="12.5" height="3.7" rx="1.85" fill="url(#g222)" opacity="0.87"/>
<rect x="583.9" y="657.4" width="13" height="5.2" rx="2.2" fill="url(#g0a0a0a)" opacity="1"/>
<rect x="598.3" y="574.8" width="12" height="5" rx="2.2" fill="url(#g0a0a0a)" opacity="1"/>
<ellipse cx="604.3" cy="606" rx="6.25" ry="5" fill="#888" opacity="0.56" filter="url(#b2)"/>
<rect x="598.3" y="601.6" width="12" height="3.6" rx="1.8" fill="url(#g444)" opacity="0.7"/>
<rect x="598.3" y="605.2" width="12" height="4.8" rx="2.2" fill="url(#g888)" opacity="0.42"/>
<rect x="598.3" y="619.1" width="12" height="5" rx="2.2" fill="url(#g111)" opacity="0.95"/>
<rect x="598.3" y="626.6" width="12" height="3.6" rx="1.8" fill="url(#g999)" opacity="0.49"/>
<rect x="598.05" y="639.95" width="12.5" height="3.7" rx="1.85" fill="url(#g222)" opacity="0.32"/>
<rect x="597.8" y="657.4" width="13" height="5.2" rx="2.2" fill="url(#g0a0a0a)" opacity="1"/>
<rect x="614.8" y="574.6" width="12" height="5.4" rx="2.2" fill="url(#g0a0a0a)" opacity="1"/>
<ellipse cx="620.8" cy="606" rx="6.25" ry="5" fill="#888" opacity="0.6" filter="url(#b2)"/>
<rect x="614.8" y="601.6" width="12" height="3.6" rx="1.8" fill="url(#g444)" opacity="0.75"/>
<rect x="614.8" y="605.2" width="12" height="4.8" rx="2.2" fill="url(#g888)" opacity="0.45"/>
<rect x="614.8" y="620.9" width="12" height="5" rx="2.2" fill="url(#g111)" opacity="0.8"/>
<rect x="614.8" y="626.6" width="12" height="3.6" rx="1.8" fill="url(#g999)" opacity="0.45"/>
<rect x="614.55" y="639.95" width="12.5" height="3.7" rx="1.85" fill="url(#g222)" opacity="0.87"/>
<rect x="614.3" y="657.4" width="13" height="5.2" rx="2.2" fill="url(#g0a0a0a)" opacity="1"/>
<rect x="628.8" y="574.6" width="12" height="5.4" rx="2.2" fill="url(#g0a0a0a)" opacity="1"/>
<ellipse cx="634.8" cy="606" rx="6.25" ry="5" fill="#888" opacity="0.2" filter="url(#b2)"/>
<rect x="628.8" y="601.6" width="12" height="3.6" rx="1.8" fill="url(#g444)" opacity="0.25"/>
<rect x="628.8" y="605.2" width="12" height="4.8" rx="2.2" fill="url(#g888)" opacity="0.15"/>
<rect x="628.8" y="620.9" width="12" height="5" rx="2.2" fill="url(#g111)" opacity="1"/>
<rect x="628.8" y="626.6" width="12" height="3.6" rx="1.8" fill="url(#g999)" opacity="0.5"/>
<rect x="628.55" y="639.95" width="12.5" height="3.7" rx="1.85" fill="url(#g222)" opacity="0.87"/>
<rect x="628.3" y="657.4" width="13" height="5.2" rx="2.2" fill="url(#g0a0a0a)" opacity="1"/>
<rect x="643.6" y="574.6" width="12" height="5.4" rx="2.2" fill="url(#g0a0a0a)" opacity="1"/>
<ellipse cx="649.6" cy="606" rx="6.25" ry="5" fill="#888" opacity="0.6" filter="url(#b2)"/>
<rect x="643.6" y="601.6" width="12" height="3.6" rx="1.8" fill="url(#g444)" opacity="0.75"/>
<rect x="643.6" y="605.2" width="12" height="4.8" rx="2.2" fill="url(#g888)" opacity="0.45"/>
<rect x="643.6" y="620.9" width="12" height="5" rx="2.2" fill="url(#g111)" opacity="0.2"/>
<rect x="643.6" y="626.6" width="12" height="3.6" rx="1.8" fill="url(#g999)" opacity="0.3"/>
<rect x="643.35" y="639.95" width="12.5" height="3.7" rx="1.85" fill="url(#g222)" opacity="0.87"/>
<rect x="643.1" y="657.4" width="13" height="5.2" rx="2.2" fill="url(#g0a0a0a)" opacity="1"/>
<rect x="657.8" y="574.6" width="12" height="5.4" rx="2.2" fill="url(#g0a0a0a)" opacity="1"/>
<ellipse cx="663.8" cy="606" rx="6.25" ry="5" fill="#888" opacity="0.56" filter="url(#b2)"/>
<rect x="657.8" y="601.6" width="12" height="3.6" rx="1.8" fill="url(#g444)" opacity="0.7"/>
<rect x="657.8" y="605.2" width="12" height="4.8" rx="2.2" fill="url(#g888)" opacity="0.42"/>
<rect x="657.8" y="620.9" width="12" height="5" rx="2.2" fill="url(#g111)" opacity="1"/>
<rect x="657.8" y="626.6" width="12" height="3.6" rx="1.8" fill="url(#g999)" opacity="0.5"/>
<rect x="657.55" y="639.95" width="12.5" height="3.7" rx="1.85" fill="url(#g222)" opacity="0.32"/>
<rect x="657.3" y="657.4" width="13" height="5.2" rx="2.2" fill="url(#g0a0a0a)" opacity="1"/>
<rect x="553.7" y="568.1" width="57.6" height="17.8" fill="none" stroke="#4a4a4a" stroke-width="0.8"/>
<rect x="613.7" y="568.1" width="57.8" height="17.8" fill="none" stroke="#4a4a4a" stroke-width="0.8"/>
<rect x="553.7" y="594.4" width="57.6" height="18.3" fill="none" stroke="#4a4a4a" stroke-width="0.8"/>
<rect x="613.7" y="594.4" width="57.8" height="18.3" fill="none" stroke="#4a4a4a" stroke-width="0.8"/>
<rect x="553.7" y="614.6" width="57.6" height="17" fill="none" stroke="#4a4a4a" stroke-width="0.8"/>
<rect x="613.7" y="614.6" width="57.8" height="17" fill="none" stroke="#4a4a4a" stroke-width="0.8"/>
<rect x="553.7" y="633.5" width="57.6" height="16.9" fill="none" stroke="#4a4a4a" stroke-width="0.8"/>
<rect x="613.7" y="633.5" width="57.8" height="16.9" fill="none" stroke="#4a4a4a" stroke-width="0.8"/>
<rect x="553.7" y="652.4" width="57.6" height="17.7" fill="none" stroke="#4a4a4a" stroke-width="0.8"/>
<rect x="613.7" y="652.4" width="57.8" height="17.7" fill="none" stroke="#4a4a4a" stroke-width="0.8"/>
<text x="551.3" y="581.7" font-size="7.6" text-anchor="end">STING</text>
<text x="551.3" y="606.6" font-size="7.6" text-anchor="end">DNMT1</text>
<text x="551.3" y="626" font-size="7.6" text-anchor="end">DNMT3a</text>
<text x="551.3" y="644.5" font-size="7.6" text-anchor="end">DNMT3b</text>
<text x="551.3" y="662.6" font-size="7.6" text-anchor="end">GAPDH</text>
<text x="551.5" y="592.4" font-size="6" text-anchor="end" stroke="none">Ratio</text>
<text x="561.8" y="592.7" font-size="6.4" text-anchor="middle" stroke="none">1.0</text>
<text x="575.6" y="592.7" font-size="6.4" text-anchor="middle" stroke="none">0.98</text>
<text x="589.3" y="592.7" font-size="6.4" text-anchor="middle" stroke="none">1.21</text>
<text x="603.9" y="592.7" font-size="6.4" text-anchor="middle" stroke="none">2.13</text>
<text x="622.2" y="592.7" font-size="6.4" text-anchor="middle" stroke="none">1.0</text>
<text x="635.4" y="592.7" font-size="6.4" text-anchor="middle" stroke="none">.1.12</text>
<text x="649.7" y="592.7" font-size="6.4" text-anchor="middle" stroke="none">1.37</text>
<text x="664" y="592.7" font-size="6.4" text-anchor="middle" stroke="none">1.97</text>
<text x="584.5" y="530" font-size="7.6" text-anchor="middle">HCT116</text>
<line x1="553.7" y1="531.5" x2="610.4" y2="531.5" stroke="#222" stroke-width="1"/>
<text x="642.3" y="530" font-size="7.6" text-anchor="middle">SW620</text>
<line x1="614" y1="531.5" x2="670.6" y2="531.5" stroke="#999" stroke-width="1.2"/>
<text x="0" y="0" font-size="7" transform="translate(563.8 568.2) rotate(-58)">shNC</text>
<text x="0" y="0" font-size="7" transform="translate(577.8 568.2) rotate(-58)">shDNMT1</text>
<text x="0" y="0" font-size="7" transform="translate(592.2 568.2) rotate(-58)">shDNMT3a</text>
<text x="0" y="0" font-size="7" transform="translate(606.1 568.2) rotate(-58)">shDNMT3b</text>
<text x="0" y="0" font-size="7" transform="translate(622.6 568.2) rotate(-58)">shNC</text>
<text x="0" y="0" font-size="7" transform="translate(636.6 568.2) rotate(-58)">shDNMT1</text>
<text x="0" y="0" font-size="7" transform="translate(651.4 568.2) rotate(-58)">shDNMT3a</text>
<text x="0" y="0" font-size="7" transform="translate(665.6 568.2) rotate(-58)">shDNMT3b</text></svg>
</body></html>
